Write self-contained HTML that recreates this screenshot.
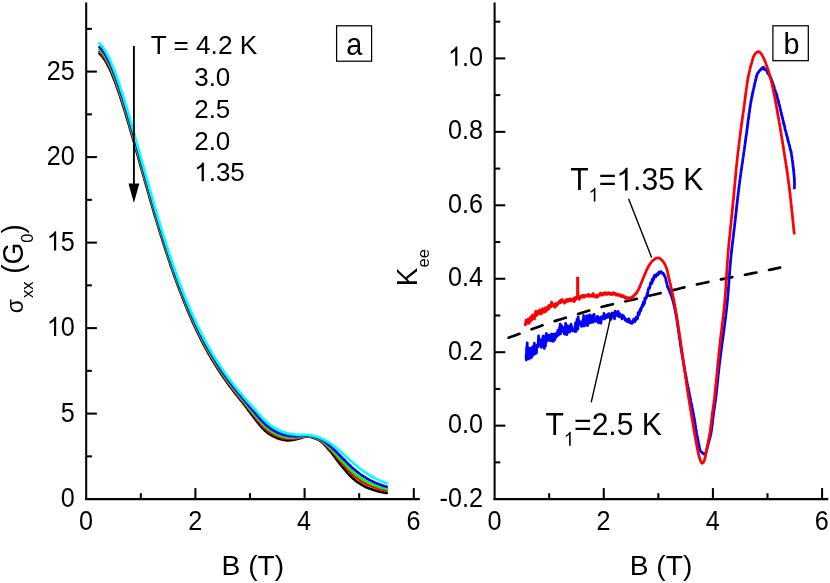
<!DOCTYPE html>
<html><head><meta charset="utf-8"><title>Figure</title>
<style>html,body{margin:0;padding:0;background:#fff}body{width:830px;height:583px;overflow:hidden;font-family:"Liberation Sans",sans-serif}</style></head>
<body>
<svg width="830" height="583" viewBox="0 0 830 583" style="display:block;will-change:transform">
<rect width="830" height="583" fill="#fff"/>
<g fill="none" stroke-linejoin="round" stroke-linecap="butt">
<path d="M99.5,53.6 L100.2,54.2 L100.9,54.9 L101.6,55.6 L102.2,56.4 L102.9,57.2 L103.6,58.2 L104.3,59.1 L105.0,60.2 L105.7,61.3 L106.4,62.5 L107.0,63.7 L107.7,65.0 L108.4,66.3 L109.1,67.7 L109.8,69.2 L110.5,70.7 L111.2,72.2 L111.8,73.8 L112.5,75.4 L113.2,77.1 L113.9,78.9 L114.6,80.6 L115.3,82.4 L116.0,84.3 L116.6,86.2 L117.3,88.1 L118.0,90.0 L118.7,92.0 L119.4,94.1 L120.1,96.1 L120.7,98.2 L121.4,100.3 L122.1,102.4 L122.8,104.6 L123.5,106.8 L124.2,109.0 L124.9,111.2 L125.5,113.4 L126.2,115.7 L126.9,118.0 L127.6,120.3 L128.3,122.6 L129.0,124.9 L129.7,127.3 L130.3,129.6 L131.0,132.0 L131.7,134.4 L132.4,136.7 L133.1,139.1 L133.8,141.5 L134.5,143.9 L135.1,146.4 L135.8,148.8 L136.5,151.2 L137.2,153.6 L137.9,156.0 L138.6,158.5 L139.3,160.9 L139.9,163.3 L140.6,165.8 L141.3,168.2 L142.0,170.6 L142.7,173.1 L143.4,175.5 L144.1,177.9 L144.7,180.3 L145.4,182.7 L146.1,185.1 L146.8,187.5 L147.5,189.9 L148.2,192.3 L148.9,194.7 L149.5,197.1 L150.2,199.5 L150.9,201.8 L151.6,204.2 L152.3,206.5 L153.0,208.9 L153.6,211.2 L154.3,213.5 L155.0,215.8 L155.7,218.1 L156.4,220.4 L157.1,222.7 L157.8,224.9 L158.4,227.2 L159.1,229.4 L159.8,231.6 L160.5,233.8 L161.2,236.0 L161.9,238.2 L162.6,240.4 L163.2,242.6 L163.9,244.7 L164.6,246.9 L165.3,249.0 L166.0,251.1 L166.7,253.2 L167.4,255.3 L168.0,257.3 L168.7,259.4 L169.4,261.4 L170.1,263.4 L170.8,265.5 L171.5,267.5 L172.2,269.4 L172.8,271.4 L173.5,273.4 L174.2,275.3 L174.9,277.2 L175.6,279.1 L176.3,281.0 L177.0,282.9 L177.6,284.8 L178.3,286.6 L179.0,288.4 L179.7,290.2 L180.4,292.0 L181.1,293.8 L181.8,295.6 L182.4,297.4 L183.1,299.1 L183.8,300.8 L184.5,302.5 L185.2,304.2 L185.9,305.9 L186.6,307.6 L187.2,309.2 L187.9,310.9 L188.6,312.5 L189.3,314.1 L190.0,315.7 L190.7,317.3 L191.3,318.8 L192.0,320.4 L192.7,321.9 L193.4,323.4 L194.1,324.9 L194.8,326.4 L195.5,327.9 L196.1,329.3 L196.8,330.8 L197.5,332.2 L198.2,333.6 L198.9,335.0 L199.6,336.4 L200.3,337.8 L200.9,339.2 L201.6,340.5 L202.3,341.9 L203.0,343.2 L203.7,344.5 L204.4,345.8 L205.1,347.1 L205.7,348.3 L206.4,349.6 L207.1,350.8 L207.8,352.1 L208.5,353.3 L209.2,354.5 L209.9,355.7 L210.5,356.9 L211.2,358.1 L211.9,359.2 L212.6,360.4 L213.3,361.5 L214.0,362.6 L214.7,363.8 L215.3,364.9 L216.0,366.0 L216.7,367.1 L217.4,368.1 L218.1,369.2 L218.8,370.3 L219.5,371.3 L220.1,372.3 L220.8,373.4 L221.5,374.4 L222.2,375.4 L222.9,376.4 L223.6,377.4 L224.3,378.4 L224.9,379.4 L225.6,380.3 L226.3,381.3 L227.0,382.2 L227.7,383.2 L228.4,384.1 L229.0,385.1 L229.7,386.0 L230.4,386.9 L231.1,387.8 L231.8,388.7 L232.5,389.6 L233.2,390.5 L233.8,391.4 L234.5,392.3 L235.2,393.2 L235.9,394.1 L236.6,395.0 L237.3,395.8 L238.0,396.7 L238.6,397.6 L239.3,398.4 L240.0,399.3 L240.7,400.1 L241.4,401.0 L242.1,401.9 L242.8,402.7 L243.4,403.6 L244.1,404.4 L244.8,405.3 L245.5,406.2 L246.2,407.1 L246.9,408.1 L247.6,409.0 L248.2,410.0 L248.9,410.9 L249.6,411.8 L250.3,412.8 L251.0,413.7 L251.7,414.6 L252.4,415.4 L253.0,416.4 L253.7,417.3 L254.4,418.2 L255.1,419.1 L255.8,420.0 L256.5,420.9 L257.2,421.7 L257.8,422.6 L258.5,423.4 L259.2,424.3 L259.9,425.1 L260.6,425.9 L261.3,426.7 L261.9,427.5 L262.6,428.2 L263.3,428.9 L264.0,429.6 L264.7,430.3 L265.4,430.9 L266.1,431.5 L266.7,432.0 L267.4,432.6 L268.1,433.1 L268.8,433.6 L269.5,434.0 L270.2,434.5 L270.9,434.9 L271.5,435.3 L272.2,435.7 L272.9,436.0 L273.6,436.4 L274.3,436.7 L275.0,437.1 L275.7,437.4 L276.3,437.7 L277.0,438.0 L277.7,438.2 L278.4,438.5 L279.1,438.7 L279.8,439.0 L280.5,439.2 L281.1,439.3 L281.8,439.5 L282.5,439.7 L283.2,439.8 L283.9,439.9 L284.6,440.0 L285.3,440.1 L285.9,440.2 L286.6,440.3 L287.3,440.3 L288.0,440.3 L288.7,440.3 L289.4,440.3 L290.1,440.2 L290.7,440.1 L291.4,440.1 L292.1,440.0 L292.8,439.9 L293.5,439.8 L294.2,439.6 L294.9,439.5 L295.5,439.4 L296.2,439.2 L296.9,439.1 L297.6,438.9 L298.3,438.8 L299.0,438.6 L299.6,438.4 L300.3,438.1 L301.0,437.9 L301.7,437.7 L302.4,437.5 L303.1,437.3 L303.8,437.1 L304.4,436.9 L305.1,436.8 L305.8,436.7 L306.5,436.6 L307.2,436.6 L307.9,436.6 L308.6,436.6 L309.2,436.7 L309.9,436.8 L310.6,437.0 L311.3,437.1 L312.0,437.3 L312.7,437.5 L313.4,437.7 L314.0,437.9 L314.7,438.2 L315.4,438.4 L316.1,438.7 L316.8,439.0 L317.5,439.3 L318.2,439.7 L318.8,440.0 L319.5,440.4 L320.2,440.8 L320.9,441.3 L321.6,441.8 L322.3,442.4 L323.0,443.1 L323.6,443.7 L324.3,444.4 L325.0,445.2 L325.7,445.9 L326.4,446.7 L327.1,447.5 L327.8,448.3 L328.4,449.1 L329.1,449.9 L329.8,450.7 L330.5,451.5 L331.2,452.3 L331.9,453.2 L332.6,454.0 L333.2,454.9 L333.9,455.8 L334.6,456.7 L335.3,457.7 L336.0,458.6 L336.7,459.5 L337.3,460.5 L338.0,461.4 L338.7,462.3 L339.4,463.2 L340.1,464.1 L340.8,464.9 L341.5,465.7 L342.1,466.5 L342.8,467.4 L343.5,468.2 L344.2,469.0 L344.9,469.8 L345.6,470.6 L346.3,471.4 L346.9,472.2 L347.6,473.0 L348.3,473.8 L349.0,474.5 L349.7,475.3 L350.4,476.0 L351.1,476.7 L351.7,477.3 L352.4,478.0 L353.1,478.6 L353.8,479.1 L354.5,479.7 L355.2,480.3 L355.9,480.8 L356.5,481.3 L357.2,481.8 L357.9,482.3 L358.6,482.7 L359.3,483.2 L360.0,483.6 L360.7,484.1 L361.3,484.5 L362.0,484.9 L362.7,485.3 L363.4,485.7 L364.1,486.1 L364.8,486.5 L365.5,486.8 L366.1,487.2 L366.8,487.5 L367.5,487.8 L368.2,488.1 L368.9,488.3 L369.6,488.6 L370.2,488.9 L370.9,489.1 L371.6,489.3 L372.3,489.6 L373.0,489.8 L373.7,490.0 L374.4,490.2 L375.0,490.4 L375.7,490.6 L376.4,490.8 L377.1,491.0 L377.8,491.2 L378.5,491.4 L379.2,491.5 L379.8,491.7 L380.5,491.9 L381.2,492.0 L381.9,492.1 L382.6,492.3 L383.3,492.4 L384.0,492.5 L384.6,492.6 L385.3,492.8 L386.0,492.9 L386.7,493.0" stroke="#000000" stroke-width="2.65" stroke-linecap="round"/>
<path d="M99.5,51.7 L100.2,52.3 L100.9,52.9 L101.6,53.7 L102.2,54.5 L102.9,55.3 L103.6,56.3 L104.3,57.3 L105.0,58.3 L105.7,59.4 L106.4,60.6 L107.0,61.8 L107.7,63.1 L108.4,64.5 L109.1,65.9 L109.8,67.3 L110.5,68.8 L111.2,70.3 L111.8,71.9 L112.5,73.6 L113.2,75.3 L113.9,77.0 L114.6,78.8 L115.3,80.6 L116.0,82.4 L116.6,84.3 L117.3,86.2 L118.0,88.2 L118.7,90.2 L119.4,92.2 L120.1,94.2 L120.7,96.3 L121.4,98.4 L122.1,100.5 L122.8,102.7 L123.5,104.9 L124.2,107.1 L124.9,109.3 L125.5,111.5 L126.2,113.8 L126.9,116.1 L127.6,118.4 L128.3,120.7 L129.0,123.0 L129.7,125.4 L130.3,127.7 L131.0,130.1 L131.7,132.5 L132.4,134.9 L133.1,137.3 L133.8,139.7 L134.5,142.1 L135.1,144.5 L135.8,146.9 L136.5,149.4 L137.2,151.8 L137.9,154.2 L138.6,156.7 L139.3,159.1 L139.9,161.5 L140.6,164.0 L141.3,166.4 L142.0,168.8 L142.7,171.3 L143.4,173.7 L144.1,176.1 L144.7,178.6 L145.4,181.0 L146.1,183.4 L146.8,185.8 L147.5,188.2 L148.2,190.6 L148.9,193.0 L149.5,195.4 L150.2,197.8 L150.9,200.2 L151.6,202.5 L152.3,204.9 L153.0,207.2 L153.6,209.5 L154.3,211.9 L155.0,214.2 L155.7,216.5 L156.4,218.8 L157.1,221.1 L157.8,223.3 L158.4,225.6 L159.1,227.8 L159.8,230.1 L160.5,232.3 L161.2,234.5 L161.9,236.7 L162.6,238.9 L163.2,241.1 L163.9,243.2 L164.6,245.4 L165.3,247.5 L166.0,249.6 L166.7,251.7 L167.4,253.8 L168.0,255.9 L168.7,257.9 L169.4,260.0 L170.1,262.0 L170.8,264.0 L171.5,266.0 L172.2,268.0 L172.8,270.0 L173.5,271.9 L174.2,273.9 L174.9,275.8 L175.6,277.7 L176.3,279.6 L177.0,281.5 L177.6,283.4 L178.3,285.2 L179.0,287.1 L179.7,288.9 L180.4,290.7 L181.1,292.5 L181.8,294.2 L182.4,296.0 L183.1,297.7 L183.8,299.5 L184.5,301.2 L185.2,302.9 L185.9,304.6 L186.6,306.2 L187.2,307.9 L187.9,309.5 L188.6,311.2 L189.3,312.8 L190.0,314.4 L190.7,315.9 L191.3,317.5 L192.0,319.0 L192.7,320.6 L193.4,322.1 L194.1,323.6 L194.8,325.1 L195.5,326.6 L196.1,328.0 L196.8,329.5 L197.5,330.9 L198.2,332.3 L198.9,333.7 L199.6,335.1 L200.3,336.5 L200.9,337.9 L201.6,339.2 L202.3,340.6 L203.0,341.9 L203.7,343.2 L204.4,344.5 L205.1,345.8 L205.7,347.0 L206.4,348.3 L207.1,349.6 L207.8,350.8 L208.5,352.0 L209.2,353.2 L209.9,354.4 L210.5,355.6 L211.2,356.8 L211.9,357.9 L212.6,359.1 L213.3,360.2 L214.0,361.4 L214.7,362.5 L215.3,363.6 L216.0,364.7 L216.7,365.8 L217.4,366.9 L218.1,367.9 L218.8,369.0 L219.5,370.0 L220.1,371.1 L220.8,372.1 L221.5,373.1 L222.2,374.1 L222.9,375.1 L223.6,376.1 L224.3,377.1 L224.9,378.1 L225.6,379.1 L226.3,380.0 L227.0,381.0 L227.7,381.9 L228.4,382.9 L229.0,383.8 L229.7,384.7 L230.4,385.6 L231.1,386.5 L231.8,387.5 L232.5,388.4 L233.2,389.2 L233.8,390.1 L234.5,391.0 L235.2,391.9 L235.9,392.8 L236.6,393.6 L237.3,394.5 L238.0,395.4 L238.6,396.2 L239.3,397.1 L240.0,397.9 L240.7,398.8 L241.4,399.6 L242.1,400.5 L242.8,401.3 L243.4,402.1 L244.1,403.0 L244.8,403.8 L245.5,404.7 L246.2,405.6 L246.9,406.5 L247.6,407.4 L248.2,408.3 L248.9,409.2 L249.6,410.1 L250.3,411.0 L251.0,411.9 L251.7,412.8 L252.4,413.6 L253.0,414.5 L253.7,415.4 L254.4,416.2 L255.1,417.1 L255.8,418.0 L256.5,418.8 L257.2,419.6 L257.8,420.5 L258.5,421.3 L259.2,422.1 L259.9,422.9 L260.6,423.7 L261.3,424.5 L261.9,425.2 L262.6,426.0 L263.3,426.7 L264.0,427.4 L264.7,428.0 L265.4,428.7 L266.1,429.3 L266.7,429.9 L267.4,430.4 L268.1,430.9 L268.8,431.4 L269.5,431.9 L270.2,432.4 L270.9,432.8 L271.5,433.2 L272.2,433.6 L272.9,434.0 L273.6,434.4 L274.3,434.8 L275.0,435.1 L275.7,435.4 L276.3,435.8 L277.0,436.1 L277.7,436.4 L278.4,436.6 L279.1,436.9 L279.8,437.1 L280.5,437.3 L281.1,437.6 L281.8,437.7 L282.5,437.9 L283.2,438.1 L283.9,438.2 L284.6,438.4 L285.3,438.5 L285.9,438.6 L286.6,438.7 L287.3,438.7 L288.0,438.8 L288.7,438.8 L289.4,438.8 L290.1,438.8 L290.7,438.8 L291.4,438.7 L292.1,438.7 L292.8,438.6 L293.5,438.6 L294.2,438.5 L294.9,438.4 L295.5,438.3 L296.2,438.2 L296.9,438.1 L297.6,438.0 L298.3,437.9 L299.0,437.7 L299.6,437.6 L300.3,437.4 L301.0,437.2 L301.7,437.0 L302.4,436.9 L303.1,436.7 L303.8,436.6 L304.4,436.5 L305.1,436.4 L305.8,436.3 L306.5,436.2 L307.2,436.2 L307.9,436.2 L308.6,436.3 L309.2,436.4 L309.9,436.5 L310.6,436.6 L311.3,436.8 L312.0,436.9 L312.7,437.1 L313.4,437.3 L314.0,437.5 L314.7,437.7 L315.4,438.0 L316.1,438.2 L316.8,438.5 L317.5,438.8 L318.2,439.1 L318.8,439.4 L319.5,439.8 L320.2,440.2 L320.9,440.6 L321.6,441.1 L322.3,441.6 L323.0,442.2 L323.6,442.8 L324.3,443.4 L325.0,444.0 L325.7,444.7 L326.4,445.4 L327.1,446.1 L327.8,446.8 L328.4,447.5 L329.1,448.3 L329.8,449.0 L330.5,449.7 L331.2,450.4 L331.9,451.2 L332.6,452.0 L333.2,452.8 L333.9,453.6 L334.6,454.4 L335.3,455.2 L336.0,456.1 L336.7,456.9 L337.3,457.8 L338.0,458.6 L338.7,459.4 L339.4,460.3 L340.1,461.1 L340.8,461.9 L341.5,462.6 L342.1,463.4 L342.8,464.2 L343.5,464.9 L344.2,465.7 L344.9,466.5 L345.6,467.2 L346.3,468.0 L346.9,468.7 L347.6,469.5 L348.3,470.2 L349.0,471.0 L349.7,471.7 L350.4,472.4 L351.1,473.0 L351.7,473.7 L352.4,474.3 L353.1,474.9 L353.8,475.5 L354.5,476.1 L355.2,476.6 L355.9,477.1 L356.5,477.7 L357.2,478.2 L357.9,478.7 L358.6,479.2 L359.3,479.6 L360.0,480.1 L360.7,480.6 L361.3,481.0 L362.0,481.4 L362.7,481.9 L363.4,482.3 L364.1,482.7 L364.8,483.1 L365.5,483.5 L366.1,483.8 L366.8,484.2 L367.5,484.5 L368.2,484.8 L368.9,485.1 L369.6,485.4 L370.2,485.7 L370.9,486.0 L371.6,486.3 L372.3,486.5 L373.0,486.8 L373.7,487.0 L374.4,487.3 L375.0,487.5 L375.7,487.7 L376.4,488.0 L377.1,488.2 L377.8,488.4 L378.5,488.6 L379.2,488.8 L379.8,489.0 L380.5,489.2 L381.2,489.4 L381.9,489.6 L382.6,489.8 L383.3,489.9 L384.0,490.1 L384.6,490.2 L385.3,490.4 L386.0,490.5 L386.7,490.6" stroke="#ff0000" stroke-width="2.65" stroke-linecap="round"/>
<path d="M99.5,49.5 L100.2,50.1 L100.9,50.8 L101.6,51.6 L102.2,52.4 L102.9,53.3 L103.6,54.3 L104.3,55.3 L105.0,56.4 L105.7,57.5 L106.4,58.7 L107.0,59.9 L107.7,61.2 L108.4,62.6 L109.1,64.0 L109.8,65.4 L110.5,66.9 L111.2,68.5 L111.8,70.1 L112.5,71.7 L113.2,73.4 L113.9,75.1 L114.6,76.9 L115.3,78.7 L116.0,80.5 L116.6,82.4 L117.3,84.3 L118.0,86.3 L118.7,88.3 L119.4,90.3 L120.1,92.3 L120.7,94.4 L121.4,96.5 L122.1,98.7 L122.8,100.8 L123.5,103.0 L124.2,105.2 L124.9,107.4 L125.5,109.7 L126.2,111.9 L126.9,114.2 L127.6,116.5 L128.3,118.8 L129.0,121.2 L129.7,123.5 L130.3,125.9 L131.0,128.2 L131.7,130.6 L132.4,133.0 L133.1,135.4 L133.8,137.8 L134.5,140.2 L135.1,142.6 L135.8,145.1 L136.5,147.5 L137.2,149.9 L137.9,152.4 L138.6,154.8 L139.3,157.3 L139.9,159.7 L140.6,162.2 L141.3,164.6 L142.0,167.1 L142.7,169.5 L143.4,171.9 L144.1,174.4 L144.7,176.8 L145.4,179.2 L146.1,181.7 L146.8,184.1 L147.5,186.5 L148.2,188.9 L148.9,191.3 L149.5,193.7 L150.2,196.1 L150.9,198.5 L151.6,200.8 L152.3,203.2 L153.0,205.6 L153.6,207.9 L154.3,210.2 L155.0,212.6 L155.7,214.9 L156.4,217.2 L157.1,219.5 L157.8,221.7 L158.4,224.0 L159.1,226.3 L159.8,228.5 L160.5,230.7 L161.2,233.0 L161.9,235.2 L162.6,237.4 L163.2,239.5 L163.9,241.7 L164.6,243.9 L165.3,246.0 L166.0,248.1 L166.7,250.2 L167.4,252.3 L168.0,254.4 L168.7,256.5 L169.4,258.5 L170.1,260.6 L170.8,262.6 L171.5,264.6 L172.2,266.6 L172.8,268.6 L173.5,270.5 L174.2,272.5 L174.9,274.4 L175.6,276.3 L176.3,278.2 L177.0,280.1 L177.6,282.0 L178.3,283.8 L179.0,285.7 L179.7,287.5 L180.4,289.3 L181.1,291.1 L181.8,292.9 L182.4,294.6 L183.1,296.4 L183.8,298.1 L184.5,299.8 L185.2,301.5 L185.9,303.2 L186.6,304.9 L187.2,306.6 L187.9,308.2 L188.6,309.8 L189.3,311.4 L190.0,313.0 L190.7,314.6 L191.3,316.2 L192.0,317.7 L192.7,319.3 L193.4,320.8 L194.1,322.3 L194.8,323.8 L195.5,325.3 L196.1,326.7 L196.8,328.2 L197.5,329.6 L198.2,331.0 L198.9,332.4 L199.6,333.8 L200.3,335.2 L200.9,336.6 L201.6,337.9 L202.3,339.3 L203.0,340.6 L203.7,341.9 L204.4,343.2 L205.1,344.5 L205.7,345.8 L206.4,347.0 L207.1,348.3 L207.8,349.5 L208.5,350.7 L209.2,351.9 L209.9,353.1 L210.5,354.3 L211.2,355.5 L211.9,356.7 L212.6,357.8 L213.3,359.0 L214.0,360.1 L214.7,361.2 L215.3,362.3 L216.0,363.4 L216.7,364.5 L217.4,365.6 L218.1,366.7 L218.8,367.7 L219.5,368.8 L220.1,369.8 L220.8,370.8 L221.5,371.8 L222.2,372.9 L222.9,373.9 L223.6,374.9 L224.3,375.8 L224.9,376.8 L225.6,377.8 L226.3,378.7 L227.0,379.7 L227.7,380.6 L228.4,381.6 L229.0,382.5 L229.7,383.4 L230.4,384.4 L231.1,385.3 L231.8,386.2 L232.5,387.1 L233.2,388.0 L233.8,388.8 L234.5,389.7 L235.2,390.6 L235.9,391.5 L236.6,392.3 L237.3,393.2 L238.0,394.1 L238.6,394.9 L239.3,395.7 L240.0,396.6 L240.7,397.4 L241.4,398.3 L242.1,399.1 L242.8,399.9 L243.4,400.8 L244.1,401.6 L244.8,402.4 L245.5,403.3 L246.2,404.1 L246.9,405.0 L247.6,405.9 L248.2,406.8 L248.9,407.6 L249.6,408.5 L250.3,409.4 L251.0,410.2 L251.7,411.0 L252.4,411.9 L253.0,412.7 L253.7,413.6 L254.4,414.4 L255.1,415.2 L255.8,416.0 L256.5,416.9 L257.2,417.7 L257.8,418.5 L258.5,419.3 L259.2,420.1 L259.9,420.9 L260.6,421.7 L261.3,422.5 L261.9,423.2 L262.6,424.0 L263.3,424.7 L264.0,425.4 L264.7,426.0 L265.4,426.7 L266.1,427.3 L266.7,427.9 L267.4,428.4 L268.1,429.0 L268.8,429.5 L269.5,430.0 L270.2,430.5 L270.9,431.0 L271.5,431.4 L272.2,431.8 L272.9,432.2 L273.6,432.6 L274.3,433.0 L275.0,433.4 L275.7,433.7 L276.3,434.1 L277.0,434.4 L277.7,434.7 L278.4,435.0 L279.1,435.3 L279.8,435.5 L280.5,435.8 L281.1,436.0 L281.8,436.2 L282.5,436.4 L283.2,436.6 L283.9,436.8 L284.6,436.9 L285.3,437.1 L285.9,437.2 L286.6,437.3 L287.3,437.4 L288.0,437.5 L288.7,437.5 L289.4,437.6 L290.1,437.6 L290.7,437.6 L291.4,437.6 L292.1,437.6 L292.8,437.6 L293.5,437.5 L294.2,437.5 L294.9,437.4 L295.5,437.4 L296.2,437.3 L296.9,437.3 L297.6,437.2 L298.3,437.1 L299.0,437.0 L299.6,436.9 L300.3,436.8 L301.0,436.6 L301.7,436.5 L302.4,436.4 L303.1,436.3 L303.8,436.2 L304.4,436.1 L305.1,436.0 L305.8,436.0 L306.5,435.9 L307.2,435.9 L307.9,436.0 L308.6,436.0 L309.2,436.1 L309.9,436.2 L310.6,436.3 L311.3,436.5 L312.0,436.6 L312.7,436.8 L313.4,436.9 L314.0,437.1 L314.7,437.4 L315.4,437.6 L316.1,437.8 L316.8,438.1 L317.5,438.4 L318.2,438.7 L318.8,439.0 L319.5,439.3 L320.2,439.7 L320.9,440.1 L321.6,440.5 L322.3,441.0 L323.0,441.5 L323.6,442.0 L324.3,442.6 L325.0,443.2 L325.7,443.8 L326.4,444.4 L327.1,445.0 L327.8,445.7 L328.4,446.3 L329.1,447.0 L329.8,447.6 L330.5,448.3 L331.2,449.0 L331.9,449.7 L332.6,450.4 L333.2,451.1 L333.9,451.9 L334.6,452.6 L335.3,453.4 L336.0,454.2 L336.7,454.9 L337.3,455.7 L338.0,456.5 L338.7,457.3 L339.4,458.0 L340.1,458.8 L340.8,459.6 L341.5,460.3 L342.1,461.0 L342.8,461.8 L343.5,462.5 L344.2,463.2 L344.9,464.0 L345.6,464.7 L346.3,465.5 L346.9,466.2 L347.6,466.9 L348.3,467.6 L349.0,468.3 L349.7,469.0 L350.4,469.7 L351.1,470.4 L351.7,471.0 L352.4,471.6 L353.1,472.2 L353.8,472.8 L354.5,473.4 L355.2,474.0 L355.9,474.5 L356.5,475.1 L357.2,475.6 L357.9,476.1 L358.6,476.6 L359.3,477.1 L360.0,477.6 L360.7,478.0 L361.3,478.5 L362.0,479.0 L362.7,479.4 L363.4,479.8 L364.1,480.3 L364.8,480.7 L365.5,481.1 L366.1,481.5 L366.8,481.8 L367.5,482.2 L368.2,482.5 L368.9,482.9 L369.6,483.2 L370.2,483.5 L370.9,483.8 L371.6,484.1 L372.3,484.4 L373.0,484.7 L373.7,485.0 L374.4,485.2 L375.0,485.5 L375.7,485.8 L376.4,486.0 L377.1,486.3 L377.8,486.5 L378.5,486.8 L379.2,487.0 L379.8,487.2 L380.5,487.4 L381.2,487.6 L381.9,487.8 L382.6,488.0 L383.3,488.2 L384.0,488.4 L384.6,488.6 L385.3,488.8 L386.0,488.9 L386.7,489.1" stroke="#00ff00" stroke-width="2.65" stroke-linecap="round"/>
<path d="M99.5,47.2 L100.2,47.8 L100.9,48.5 L101.6,49.3 L102.2,50.2 L102.9,51.1 L103.6,52.0 L104.3,53.1 L105.0,54.1 L105.7,55.3 L106.4,56.5 L107.0,57.7 L107.7,59.0 L108.4,60.4 L109.1,61.8 L109.8,63.3 L110.5,64.8 L111.2,66.3 L111.8,67.9 L112.5,69.6 L113.2,71.2 L113.9,73.0 L114.6,74.7 L115.3,76.5 L116.0,78.4 L116.6,80.3 L117.3,82.2 L118.0,84.1 L118.7,86.1 L119.4,88.1 L120.1,90.2 L120.7,92.3 L121.4,94.4 L122.1,96.5 L122.8,98.6 L123.5,100.8 L124.2,103.0 L124.9,105.2 L125.5,107.5 L126.2,109.8 L126.9,112.0 L127.6,114.3 L128.3,116.7 L129.0,119.0 L129.7,121.3 L130.3,123.7 L131.0,126.1 L131.7,128.5 L132.4,130.9 L133.1,133.3 L133.8,135.7 L134.5,138.1 L135.1,140.5 L135.8,143.0 L136.5,145.4 L137.2,147.8 L137.9,150.3 L138.6,152.7 L139.3,155.2 L139.9,157.6 L140.6,160.1 L141.3,162.5 L142.0,165.0 L142.7,167.5 L143.4,169.9 L144.1,172.3 L144.7,174.8 L145.4,177.2 L146.1,179.7 L146.8,182.1 L147.5,184.5 L148.2,186.9 L148.9,189.4 L149.5,191.8 L150.2,194.2 L150.9,196.5 L151.6,198.9 L152.3,201.3 L153.0,203.7 L153.6,206.0 L154.3,208.4 L155.0,210.7 L155.7,213.0 L156.4,215.3 L157.1,217.6 L157.8,219.9 L158.4,222.2 L159.1,224.5 L159.8,226.7 L160.5,229.0 L161.2,231.2 L161.9,233.4 L162.6,235.6 L163.2,237.8 L163.9,240.0 L164.6,242.1 L165.3,244.3 L166.0,246.4 L166.7,248.5 L167.4,250.6 L168.0,252.7 L168.7,254.8 L169.4,256.9 L170.1,258.9 L170.8,260.9 L171.5,262.9 L172.2,264.9 L172.8,266.9 L173.5,268.9 L174.2,270.9 L174.9,272.8 L175.6,274.7 L176.3,276.6 L177.0,278.5 L177.6,280.4 L178.3,282.3 L179.0,284.1 L179.7,285.9 L180.4,287.7 L181.1,289.5 L181.8,291.3 L182.4,293.1 L183.1,294.8 L183.8,296.6 L184.5,298.3 L185.2,300.0 L185.9,301.7 L186.6,303.4 L187.2,305.0 L187.9,306.7 L188.6,308.3 L189.3,309.9 L190.0,311.5 L190.7,313.1 L191.3,314.7 L192.0,316.2 L192.7,317.7 L193.4,319.3 L194.1,320.8 L194.8,322.3 L195.5,323.7 L196.1,325.2 L196.8,326.7 L197.5,328.1 L198.2,329.5 L198.9,330.9 L199.6,332.3 L200.3,333.7 L200.9,335.1 L201.6,336.4 L202.3,337.8 L203.0,339.1 L203.7,340.4 L204.4,341.7 L205.1,343.0 L205.7,344.3 L206.4,345.5 L207.1,346.8 L207.8,348.0 L208.5,349.2 L209.2,350.5 L209.9,351.7 L210.5,352.9 L211.2,354.0 L211.9,355.2 L212.6,356.3 L213.3,357.5 L214.0,358.6 L214.7,359.7 L215.3,360.9 L216.0,362.0 L216.7,363.0 L217.4,364.1 L218.1,365.2 L218.8,366.3 L219.5,367.3 L220.1,368.3 L220.8,369.4 L221.5,370.4 L222.2,371.4 L222.9,372.4 L223.6,373.4 L224.3,374.4 L224.9,375.4 L225.6,376.3 L226.3,377.3 L227.0,378.2 L227.7,379.2 L228.4,380.1 L229.0,381.0 L229.7,382.0 L230.4,382.9 L231.1,383.8 L231.8,384.7 L232.5,385.6 L233.2,386.5 L233.8,387.4 L234.5,388.2 L235.2,389.1 L235.9,390.0 L236.6,390.8 L237.3,391.7 L238.0,392.5 L238.6,393.4 L239.3,394.2 L240.0,395.0 L240.7,395.9 L241.4,396.7 L242.1,397.5 L242.8,398.3 L243.4,399.1 L244.1,400.0 L244.8,400.8 L245.5,401.6 L246.2,402.4 L246.9,403.3 L247.6,404.1 L248.2,404.9 L248.9,405.8 L249.6,406.6 L250.3,407.4 L251.0,408.2 L251.7,409.0 L252.4,409.8 L253.0,410.6 L253.7,411.4 L254.4,412.2 L255.1,413.0 L255.8,413.8 L256.5,414.6 L257.2,415.4 L257.8,416.2 L258.5,417.0 L259.2,417.8 L259.9,418.5 L260.6,419.3 L261.3,420.1 L261.9,420.8 L262.6,421.5 L263.3,422.2 L264.0,422.9 L264.7,423.6 L265.4,424.3 L266.1,424.9 L266.7,425.5 L267.4,426.1 L268.1,426.6 L268.8,427.2 L269.5,427.7 L270.2,428.2 L270.9,428.7 L271.5,429.2 L272.2,429.6 L272.9,430.0 L273.6,430.5 L274.3,430.9 L275.0,431.3 L275.7,431.6 L276.3,432.0 L277.0,432.3 L277.7,432.6 L278.4,433.0 L279.1,433.3 L279.8,433.5 L280.5,433.8 L281.1,434.1 L281.8,434.3 L282.5,434.5 L283.2,434.7 L283.9,434.9 L284.6,435.1 L285.3,435.3 L285.9,435.4 L286.6,435.6 L287.3,435.7 L288.0,435.8 L288.7,435.9 L289.4,436.0 L290.1,436.1 L290.7,436.1 L291.4,436.2 L292.1,436.2 L292.8,436.2 L293.5,436.2 L294.2,436.3 L294.9,436.3 L295.5,436.3 L296.2,436.2 L296.9,436.2 L297.6,436.2 L298.3,436.1 L299.0,436.1 L299.6,436.0 L300.3,436.0 L301.0,435.9 L301.7,435.8 L302.4,435.8 L303.1,435.7 L303.8,435.6 L304.4,435.6 L305.1,435.6 L305.8,435.5 L306.5,435.5 L307.2,435.6 L307.9,435.6 L308.6,435.7 L309.2,435.7 L309.9,435.8 L310.6,435.9 L311.3,436.1 L312.0,436.2 L312.7,436.4 L313.4,436.5 L314.0,436.7 L314.7,436.9 L315.4,437.1 L316.1,437.3 L316.8,437.6 L317.5,437.8 L318.2,438.1 L318.8,438.4 L319.5,438.7 L320.2,439.0 L320.9,439.3 L321.6,439.7 L322.3,440.1 L323.0,440.6 L323.6,441.0 L324.3,441.5 L325.0,442.0 L325.7,442.5 L326.4,443.0 L327.1,443.6 L327.8,444.1 L328.4,444.7 L329.1,445.3 L329.8,445.8 L330.5,446.4 L331.2,447.0 L331.9,447.6 L332.6,448.3 L333.2,448.9 L333.9,449.5 L334.6,450.2 L335.3,450.9 L336.0,451.6 L336.7,452.2 L337.3,452.9 L338.0,453.6 L338.7,454.3 L339.4,455.0 L340.1,455.7 L340.8,456.4 L341.5,457.1 L342.1,457.8 L342.8,458.5 L343.5,459.1 L344.2,459.8 L344.9,460.5 L345.6,461.2 L346.3,461.9 L346.9,462.6 L347.6,463.3 L348.3,464.0 L349.0,464.7 L349.7,465.3 L350.4,466.0 L351.1,466.6 L351.7,467.3 L352.4,467.9 L353.1,468.5 L353.8,469.1 L354.5,469.7 L355.2,470.2 L355.9,470.8 L356.5,471.4 L357.2,471.9 L357.9,472.4 L358.6,472.9 L359.3,473.5 L360.0,474.0 L360.7,474.5 L361.3,474.9 L362.0,475.4 L362.7,475.9 L363.4,476.3 L364.1,476.8 L364.8,477.2 L365.5,477.6 L366.1,478.1 L366.8,478.5 L367.5,478.9 L368.2,479.2 L368.9,479.6 L369.6,480.0 L370.2,480.3 L370.9,480.7 L371.6,481.0 L372.3,481.3 L373.0,481.7 L373.7,482.0 L374.4,482.3 L375.0,482.6 L375.7,482.9 L376.4,483.2 L377.1,483.5 L377.8,483.7 L378.5,484.0 L379.2,484.3 L379.8,484.5 L380.5,484.8 L381.2,485.0 L381.9,485.3 L382.6,485.5 L383.3,485.7 L384.0,486.0 L384.6,486.2 L385.3,486.4 L386.0,486.6 L386.7,486.8" stroke="#0000ff" stroke-width="2.65" stroke-linecap="round"/>
<path d="M99.5,43.4 L100.2,44.1 L100.9,44.8 L101.6,45.6 L102.2,46.5 L102.9,47.4 L103.6,48.4 L104.3,49.5 L105.0,50.6 L105.7,51.8 L106.4,53.0 L107.0,54.2 L107.7,55.6 L108.4,56.9 L109.1,58.3 L109.8,59.8 L110.5,61.3 L111.2,62.9 L111.8,64.5 L112.5,66.1 L113.2,67.8 L113.9,69.5 L114.6,71.3 L115.3,73.1 L116.0,74.9 L116.6,76.8 L117.3,78.7 L118.0,80.7 L118.7,82.7 L119.4,84.7 L120.1,86.7 L120.7,88.8 L121.4,90.9 L122.1,93.0 L122.8,95.2 L123.5,97.3 L124.2,99.5 L124.9,101.8 L125.5,104.0 L126.2,106.3 L126.9,108.6 L127.6,110.9 L128.3,113.2 L129.0,115.5 L129.7,117.9 L130.3,120.2 L131.0,122.6 L131.7,125.0 L132.4,127.4 L133.1,129.8 L133.8,132.2 L134.5,134.7 L135.1,137.1 L135.8,139.5 L136.5,142.0 L137.2,144.4 L137.9,146.9 L138.6,149.4 L139.3,151.8 L139.9,154.3 L140.6,156.8 L141.3,159.2 L142.0,161.7 L142.7,164.2 L143.4,166.6 L144.1,169.1 L144.7,171.5 L145.4,174.0 L146.1,176.4 L146.8,178.9 L147.5,181.3 L148.2,183.8 L148.9,186.2 L149.5,188.6 L150.2,191.0 L150.9,193.4 L151.6,195.8 L152.3,198.2 L153.0,200.6 L153.6,203.0 L154.3,205.3 L155.0,207.7 L155.7,210.0 L156.4,212.4 L157.1,214.7 L157.8,217.0 L158.4,219.3 L159.1,221.6 L159.8,223.8 L160.5,226.1 L161.2,228.3 L161.9,230.6 L162.6,232.8 L163.2,235.0 L163.9,237.2 L164.6,239.4 L165.3,241.5 L166.0,243.7 L166.7,245.8 L167.4,247.9 L168.0,250.0 L168.7,252.1 L169.4,254.2 L170.1,256.2 L170.8,258.3 L171.5,260.3 L172.2,262.3 L172.8,264.3 L173.5,266.3 L174.2,268.2 L174.9,270.2 L175.6,272.1 L176.3,274.0 L177.0,275.9 L177.6,277.8 L178.3,279.7 L179.0,281.6 L179.7,283.4 L180.4,285.2 L181.1,287.0 L181.8,288.8 L182.4,290.6 L183.1,292.3 L183.8,294.1 L184.5,295.8 L185.2,297.5 L185.9,299.2 L186.6,300.9 L187.2,302.6 L187.9,304.2 L188.6,305.8 L189.3,307.4 L190.0,309.1 L190.7,310.6 L191.3,312.2 L192.0,313.8 L192.7,315.3 L193.4,316.8 L194.1,318.3 L194.8,319.8 L195.5,321.3 L196.1,322.8 L196.8,324.2 L197.5,325.7 L198.2,327.1 L198.9,328.5 L199.6,329.9 L200.3,331.3 L200.9,332.7 L201.6,334.0 L202.3,335.4 L203.0,336.7 L203.7,338.0 L204.4,339.3 L205.1,340.6 L205.7,341.9 L206.4,343.2 L207.1,344.4 L207.8,345.6 L208.5,346.9 L209.2,348.1 L209.9,349.3 L210.5,350.5 L211.2,351.7 L211.9,352.8 L212.6,354.0 L213.3,355.1 L214.0,356.3 L214.7,357.4 L215.3,358.5 L216.0,359.6 L216.7,360.7 L217.4,361.8 L218.1,362.8 L218.8,363.9 L219.5,365.0 L220.1,366.0 L220.8,367.0 L221.5,368.0 L222.2,369.1 L222.9,370.1 L223.6,371.1 L224.3,372.0 L224.9,373.0 L225.6,374.0 L226.3,374.9 L227.0,375.9 L227.7,376.8 L228.4,377.8 L229.0,378.7 L229.7,379.6 L230.4,380.5 L231.1,381.4 L231.8,382.3 L232.5,383.2 L233.2,384.1 L233.8,385.0 L234.5,385.8 L235.2,386.7 L235.9,387.6 L236.6,388.4 L237.3,389.3 L238.0,390.1 L238.6,390.9 L239.3,391.8 L240.0,392.6 L240.7,393.4 L241.4,394.2 L242.1,395.0 L242.8,395.9 L243.4,396.7 L244.1,397.4 L244.8,398.2 L245.5,399.0 L246.2,399.8 L246.9,400.6 L247.6,401.4 L248.2,402.2 L248.9,402.9 L249.6,403.7 L250.3,404.5 L251.0,405.2 L251.7,406.0 L252.4,406.8 L253.0,407.5 L253.7,408.2 L254.4,409.0 L255.1,409.7 L255.8,410.5 L256.5,411.2 L257.2,412.0 L257.8,412.8 L258.5,413.6 L259.2,414.3 L259.9,415.1 L260.6,415.9 L261.3,416.6 L261.9,417.4 L262.6,418.1 L263.3,418.8 L264.0,419.5 L264.7,420.2 L265.4,420.8 L266.1,421.5 L266.7,422.1 L267.4,422.7 L268.1,423.3 L268.8,423.9 L269.5,424.4 L270.2,425.0 L270.9,425.5 L271.5,426.0 L272.2,426.5 L272.9,426.9 L273.6,427.4 L274.3,427.8 L275.0,428.2 L275.7,428.6 L276.3,429.0 L277.0,429.4 L277.7,429.7 L278.4,430.1 L279.1,430.4 L279.8,430.7 L280.5,431.0 L281.1,431.3 L281.8,431.6 L282.5,431.8 L283.2,432.1 L283.9,432.3 L284.6,432.5 L285.3,432.7 L285.9,432.9 L286.6,433.1 L287.3,433.3 L288.0,433.5 L288.7,433.6 L289.4,433.8 L290.1,433.9 L290.7,434.0 L291.4,434.1 L292.1,434.2 L292.8,434.3 L293.5,434.4 L294.2,434.5 L294.9,434.5 L295.5,434.6 L296.2,434.7 L296.9,434.7 L297.6,434.7 L298.3,434.8 L299.0,434.8 L299.6,434.8 L300.3,434.8 L301.0,434.8 L301.7,434.8 L302.4,434.9 L303.1,434.9 L303.8,434.9 L304.4,434.9 L305.1,434.9 L305.8,434.9 L306.5,435.0 L307.2,435.0 L307.9,435.1 L308.6,435.1 L309.2,435.2 L309.9,435.3 L310.6,435.4 L311.3,435.5 L312.0,435.6 L312.7,435.8 L313.4,435.9 L314.0,436.0 L314.7,436.2 L315.4,436.4 L316.1,436.6 L316.8,436.8 L317.5,437.0 L318.2,437.2 L318.8,437.5 L319.5,437.7 L320.2,438.0 L320.9,438.3 L321.6,438.6 L322.3,438.9 L323.0,439.2 L323.6,439.6 L324.3,439.9 L325.0,440.3 L325.7,440.7 L326.4,441.1 L327.1,441.5 L327.8,441.9 L328.4,442.3 L329.1,442.7 L329.8,443.2 L330.5,443.7 L331.2,444.1 L331.9,444.6 L332.6,445.1 L333.2,445.6 L333.9,446.1 L334.6,446.7 L335.3,447.2 L336.0,447.7 L336.7,448.3 L337.3,448.9 L338.0,449.4 L338.7,450.0 L339.4,450.6 L340.1,451.2 L340.8,451.8 L341.5,452.4 L342.1,453.0 L342.8,453.6 L343.5,454.2 L344.2,454.8 L344.9,455.5 L345.6,456.1 L346.3,456.7 L346.9,457.4 L347.6,458.0 L348.3,458.6 L349.0,459.3 L349.7,459.9 L350.4,460.5 L351.1,461.1 L351.7,461.7 L352.4,462.4 L353.1,463.0 L353.8,463.6 L354.5,464.2 L355.2,464.7 L355.9,465.3 L356.5,465.9 L357.2,466.4 L357.9,467.0 L358.6,467.5 L359.3,468.1 L360.0,468.6 L360.7,469.1 L361.3,469.7 L362.0,470.2 L362.7,470.7 L363.4,471.1 L364.1,471.6 L364.8,472.1 L365.5,472.6 L366.1,473.0 L366.8,473.5 L367.5,473.9 L368.2,474.3 L368.9,474.8 L369.6,475.2 L370.2,475.6 L370.9,476.0 L371.6,476.4 L372.3,476.8 L373.0,477.1 L373.7,477.5 L374.4,477.9 L375.0,478.2 L375.7,478.6 L376.4,478.9 L377.1,479.3 L377.8,479.6 L378.5,479.9 L379.2,480.2 L379.8,480.5 L380.5,480.8 L381.2,481.1 L381.9,481.4 L382.6,481.7 L383.3,482.0 L384.0,482.3 L384.6,482.5 L385.3,482.8 L386.0,483.0 L386.7,483.3" stroke="#00ffff" stroke-width="2.65" stroke-linecap="round"/>
</g>
<g stroke="#000" stroke-width="2.05" fill="none" stroke-linecap="butt">
<path d="M86.2,2.5 V500.12"/>
<path d="M85.17,499.1 H419.8"/>
<path d="M86.2,413.60 h10.7"/>
<path d="M86.2,328.10 h10.7"/>
<path d="M86.2,242.60 h10.7"/>
<path d="M86.2,157.10 h10.7"/>
<path d="M86.2,71.60 h10.7"/>
<path d="M86.2,456.35 h5.7"/>
<path d="M86.2,370.85 h5.7"/>
<path d="M86.2,285.35 h5.7"/>
<path d="M86.2,199.85 h5.7"/>
<path d="M86.2,114.35 h5.7"/>
<path d="M86.2,28.85 h5.7"/>
<path d="M195.40,499.1 v-11"/>
<path d="M304.60,499.1 v-11"/>
<path d="M413.80,499.1 v-11"/>
<path d="M140.80,499.1 v-5.9"/>
<path d="M250.00,499.1 v-5.9"/>
<path d="M359.20,499.1 v-5.9"/>
</g>
<g stroke="#000" stroke-width="2.05" fill="none" stroke-linecap="butt">
<path d="M494.6,2.5 V500.12"/>
<path d="M493.58,499.09999999999997 H828.2"/>
<path d="M494.6,425.65 h10.7"/>
<path d="M494.6,352.20 h10.7"/>
<path d="M494.6,278.75 h10.7"/>
<path d="M494.6,205.30 h10.7"/>
<path d="M494.6,131.85 h10.7"/>
<path d="M494.6,58.40 h10.7"/>
<path d="M494.6,462.38 h5.7"/>
<path d="M494.6,388.93 h5.7"/>
<path d="M494.6,315.47 h5.7"/>
<path d="M494.6,242.03 h5.7"/>
<path d="M494.6,168.58 h5.7"/>
<path d="M494.6,95.12 h5.7"/>
<path d="M494.6,21.67 h5.7"/>
<path d="M603.76,499.09999999999997 v-11"/>
<path d="M712.92,499.09999999999997 v-11"/>
<path d="M822.08,499.09999999999997 v-11"/>
<path d="M549.18,499.09999999999997 v-5.9"/>
<path d="M658.34,499.09999999999997 v-5.9"/>
<path d="M767.50,499.09999999999997 v-5.9"/>
</g>
<g fill="none" stroke-linejoin="round">
<path d="M506.7,338.4 L511.2,336.8 L515.7,335.2 L520.2,333.5 L524.7,331.8 L529.2,330.2 L533.7,328.5 L538.2,326.9 L542.7,325.2 L547.3,323.7 L551.8,322.1 L556.3,320.6 L560.9,319.2 L565.5,317.8 L570.1,316.4 L574.7,315.0 L579.3,313.6 L583.8,312.2 L588.4,310.8 L593.0,309.4 L597.6,308.1 L602.2,306.8 L606.9,305.6 L611.6,304.5 L616.2,303.5 L620.9,302.4 L625.6,301.3 L630.3,300.3 L634.9,299.2 L639.6,298.1 L644.3,297.0 L648.9,295.9 L653.6,294.8 L658.3,293.7 L662.9,292.6 L667.6,291.4 L672.2,290.3 L676.9,289.2 L681.5,288.0 L686.2,286.9 L690.9,285.8 L695.5,284.7 L700.2,283.7 L704.9,282.7 L709.6,281.7 L714.3,280.7 L719.0,279.8 L723.7,278.9 L728.4,277.9 L733.1,277.0 L737.8,276.1 L742.5,275.2 L747.2,274.3 L751.9,273.4 L756.6,272.5 L761.3,271.5 L766.0,270.6 L770.7,269.6 L775.4,268.6 L780.1,267.6" stroke="#000" stroke-width="2.7" stroke-dasharray="11.6 12.9" stroke-dashoffset="-2" stroke-linecap="round" transform="translate(0,0)"/>
<path d="M526.0,354.8 L526.3,360.0 L526.6,347.7 L526.9,347.7 L527.2,342.9 L527.5,351.8 L527.8,355.0 L528.1,355.2 L528.4,356.0 L528.7,358.9 L529.0,353.3 L529.3,356.6 L529.6,348.1 L529.9,348.6 L530.2,352.8 L530.5,348.4 L530.8,354.4 L531.1,357.9 L531.4,353.8 L531.7,348.8 L532.0,348.3 L532.3,356.1 L532.6,346.8 L532.9,349.8 L533.2,347.9 L533.5,348.8 L533.8,352.6 L534.1,346.3 L534.4,343.2 L534.7,354.2 L535.0,349.8 L535.3,351.8 L535.6,349.1 L535.9,351.9 L536.2,353.2 L536.5,352.9 L536.8,346.2 L537.1,345.1 L537.4,346.9 L537.7,345.8 L538.0,346.6 L538.3,341.8 L538.6,335.8 L538.9,344.1 L539.2,344.1 L539.5,342.8 L539.8,345.7 L540.1,343.1 L540.4,339.7 L540.7,345.0 L541.0,342.6 L541.3,347.3 L541.6,344.3 L541.9,344.6 L542.2,343.3 L542.5,342.2 L542.8,337.5 L543.1,342.1 L543.4,335.8 L543.7,344.0 L544.0,345.5 L544.3,348.4 L544.6,343.4 L544.9,340.0 L545.2,337.1 L545.5,346.0 L545.8,336.5 L546.1,342.3 L546.4,333.3 L546.7,338.9 L547.0,340.6 L547.3,339.3 L547.6,338.0 L547.9,335.6 L548.2,335.2 L548.5,340.2 L548.8,338.7 L549.1,337.0 L549.4,338.1 L549.7,335.1 L550.0,340.2 L550.3,340.6 L550.6,334.8 L550.9,336.6 L551.2,338.7 L551.5,334.0 L551.8,341.0 L552.1,339.8 L552.4,335.4 L552.7,339.1 L553.0,341.3 L553.3,334.1 L553.6,339.3 L553.9,337.6 L554.2,337.8 L554.5,340.4 L554.8,337.3 L555.1,334.7 L555.4,334.0 L555.7,336.8 L556.0,337.4 L556.3,334.7 L556.6,333.3 L556.9,332.9 L557.2,335.8 L557.5,333.6 L557.8,330.3 L558.1,331.5 L558.4,335.2 L558.7,330.1 L559.0,330.0 L559.3,330.4 L559.6,327.2 L559.9,332.1 L560.2,324.1 L560.5,333.9 L560.8,329.5 L561.1,327.6 L561.4,331.5 L561.7,325.9 L562.0,331.2 L562.3,331.3 L562.6,327.5 L562.9,327.9 L563.2,331.6 L563.5,327.7 L563.8,329.8 L564.1,330.9 L564.4,334.2 L564.7,328.8 L565.0,330.1 L565.3,332.9 L565.6,323.4 L565.9,329.3 L566.2,325.0 L566.5,325.1 L566.8,334.6 L567.1,329.7 L567.4,332.6 L567.7,327.7 L568.0,329.4 L568.3,326.6 L568.6,326.2 L568.9,327.6 L569.2,328.3 L569.5,332.2 L569.8,327.9 L570.1,329.4 L570.4,327.6 L570.7,328.3 L571.0,324.2 L571.3,330.4 L571.6,326.1 L571.9,327.8 L572.2,327.4 L572.5,331.0 L572.8,330.2 L573.1,329.0 L573.4,329.3 L573.7,329.5 L574.0,330.2 L574.3,329.3 L574.6,331.1 L574.9,331.6 L575.2,328.5 L575.5,322.9 L575.8,330.7 L576.1,331.4 L576.4,324.3 L576.7,324.0 L577.0,319.4 L577.3,327.0 L577.6,321.9 L577.9,329.1 L578.2,316.8 L578.5,323.2 L578.8,324.6 L579.1,321.6 L579.4,320.9 L579.7,324.3 L580.0,322.8 L580.3,323.8 L580.6,324.8 L580.9,323.3 L581.2,323.9 L581.5,326.3 L581.8,322.8 L582.1,324.1 L582.4,321.5 L582.7,325.9 L583.0,320.0 L583.3,326.0 L583.6,315.5 L583.9,321.1 L584.2,319.3 L584.5,325.9 L584.8,323.8 L585.1,319.5 L585.4,320.9 L585.7,325.0 L586.0,320.6 L586.3,321.4 L586.6,315.8 L586.9,315.7 L587.2,321.0 L587.5,325.7 L587.8,319.2 L588.1,322.2 L588.4,318.5 L588.7,323.5 L589.0,319.0 L589.3,318.6 L589.6,314.9 L589.9,318.2 L590.2,319.6 L590.5,322.6 L590.8,317.0 L591.1,322.1 L591.4,319.1 L591.7,319.1 L592.0,317.5 L592.3,315.7 L592.6,316.5 L592.9,322.3 L593.2,316.1 L593.5,317.7 L593.8,321.0 L594.1,314.4 L594.4,319.9 L594.7,318.1 L595.0,319.8 L595.3,321.3 L595.6,319.4 L595.9,319.4 L596.2,321.2 L596.5,320.9 L596.8,318.0 L597.1,318.9 L597.4,316.4 L597.7,321.4 L598.0,316.6 L598.3,319.5 L598.6,322.8 L598.9,321.2 L599.2,319.1 L599.5,318.2 L599.8,318.2 L600.1,320.8 L600.4,319.5 L600.7,318.7 L601.0,323.2 L601.3,316.9 L601.6,317.2 L601.9,317.1 L602.2,317.7 L602.5,317.6 L602.8,316.5 L603.1,318.4 L603.4,318.2 L603.7,317.0 L604.0,313.4 L604.3,319.0 L604.6,316.1 L604.9,316.6 L605.2,317.5 L605.5,315.7 L605.8,316.5 L606.1,317.8 L606.4,316.9 L606.7,317.7 L607.0,315.3 L607.3,316.0 L607.6,314.3 L607.9,315.4 L608.2,316.3 L608.5,315.4 L608.8,313.7 L609.1,315.7 L609.4,316.3 L609.7,317.9 L610.0,316.1 L610.3,315.6 L610.6,314.5 L610.9,319.4 L611.2,314.8 L611.5,314.4 L611.8,315.6 L612.1,312.8 L612.4,316.9 L612.7,315.5 L613.0,315.8 L613.3,313.7 L613.6,314.4 L613.9,316.4 L614.2,316.3 L614.5,318.8 L614.8,315.9 L615.1,311.2 L615.4,313.6 L615.7,312.5 L616.0,314.3 L616.3,312.6 L616.6,313.6 L616.9,312.7 L617.2,314.3 L617.5,315.8 L617.8,313.2 L618.1,311.4 L618.4,312.9 L618.7,316.5 L619.0,314.7 L619.3,314.1 L619.6,313.4 L619.9,316.5 L620.2,315.8 L620.5,315.6 L620.8,315.3 L621.1,316.2 L621.4,316.3 L621.7,317.8 L622.0,319.0 L622.3,314.8 L622.6,315.7 L622.9,317.7 L623.2,318.0 L623.5,315.9 L623.8,317.2 L624.1,317.6 L624.4,317.7 L624.7,317.8 L625.0,318.6 L625.3,320.2 L625.6,320.3 L625.9,320.4 L626.2,320.3 L626.5,319.3 L626.8,319.8 L627.1,321.5 L627.4,320.9 L627.7,321.8 L628.0,321.1 L628.3,320.8 L628.6,321.3 L628.9,318.8 L629.2,320.8 L629.5,320.4 L629.8,322.5 L630.1,320.8 L630.4,322.2 L630.7,321.5 L631.0,322.8 L631.3,323.3 L631.6,322.2 L631.9,322.5 L632.2,322.5 L632.5,323.0 L632.8,321.2 L633.1,321.1 L633.4,320.1 L633.7,319.1 L634.0,320.3 L634.3,320.4 L634.6,318.9 L634.9,321.7 L635.2,318.9 L635.5,320.7 L635.8,320.1 L636.1,317.4 L636.4,319.1 L636.7,316.8 L637.0,317.9 L637.3,318.0 L637.6,318.5 L637.9,316.3 L638.2,312.6 L638.5,313.2 L638.8,314.8 L639.1,312.7 L639.4,314.1 L639.7,310.7 L640.0,310.5 L640.3,309.1 L640.6,309.5 L640.9,310.6 L641.2,307.3 L641.5,308.3 L641.8,307.0 L642.1,306.6 L642.4,304.7 L642.7,304.5 L643.0,306.2 L643.3,302.1 L643.6,303.9 L643.9,304.3 L644.2,302.8 L644.5,303.5 L644.8,298.2 L645.1,300.3 L645.4,298.7 L645.7,298.7 L646.0,298.2 L646.3,298.0 L646.6,295.9 L646.9,296.8 L647.2,293.5 L647.5,294.9 L647.8,292.7 L648.1,290.2 L648.4,289.1 L648.7,288.0 L649.0,287.8 L649.3,287.9 L649.6,288.2 L649.9,287.0 L650.2,284.5 L650.5,283.0 L650.8,284.1 L651.1,282.4 L651.4,282.8 L651.7,281.5 L652.0,283.5 L652.3,279.1 L652.6,280.1 L652.9,280.9 L653.2,278.5 L653.5,277.7 L653.8,279.3 L654.1,275.6 L654.4,275.5 L654.7,275.3 L655.0,276.2 L655.3,276.0 L655.6,275.0 L655.9,276.7 L656.2,274.6 L656.5,274.6 L656.8,274.2 L657.1,275.2 L657.4,274.0 L657.7,273.5 L658.0,274.9 L658.3,274.4 L658.6,274.0 L658.9,272.1 L659.2,272.0 L659.5,272.4 L659.8,272.3 L660.1,272.1 L660.4,272.2 L660.7,272.8 L661.0,271.7 L661.3,272.7 L661.6,272.4 L661.9,272.4 L662.2,272.8 L662.5,273.6 L662.8,273.5 L663.1,273.1 L663.4,274.1 L663.7,274.3 L664.0,274.8 L664.3,274.9 L664.6,276.3 L664.9,276.8 L665.2,276.8 L665.5,277.8 L665.8,278.9 L666.1,281.1 L666.4,281.7 L666.7,283.0 L667.0,284.2 L667.3,285.8 L667.6,287.2 L667.9,286.8 L668.2,288.7 L668.5,288.7 L668.8,289.7 L669.1,289.7 L669.4,290.0 L669.7,291.6 L670.0,292.8 L670.3,292.2 L670.6,293.8 L670.9,294.7 L671.2,295.8 L671.5,295.9 L671.8,297.0 L672.1,298.0 L672.3,298.6 L672.5,299.2 L672.6,299.8 L672.8,300.4 L673.0,301.0 L673.1,301.6 L673.3,302.2 L673.5,302.9 L673.6,303.5 L673.8,304.1 L673.9,304.7 L674.1,305.3 L674.2,306.0 L674.4,306.6 L674.5,307.2 L674.6,307.9 L674.8,308.5 L674.9,309.1 L675.0,309.8 L675.2,310.4 L675.3,311.0 L675.4,311.7 L675.5,312.3 L675.7,312.9 L675.8,313.6 L675.9,314.2 L676.0,314.8 L676.1,315.5 L676.2,316.1 L676.3,316.7 L676.5,317.4 L676.6,318.0 L676.7,318.6 L676.8,319.3 L676.9,319.9 L677.0,320.5 L677.1,321.2 L677.2,321.8 L677.3,322.4 L677.4,323.0 L677.5,323.7 L677.6,324.3 L677.6,324.9 L677.7,325.5 L677.8,326.2 L677.9,326.8 L678.0,327.4 L678.1,328.0 L678.2,328.7 L678.3,329.3 L678.4,329.9 L678.5,330.5 L678.5,331.2 L678.6,331.8 L678.7,332.4 L678.8,333.0 L678.9,333.7 L679.0,334.3 L679.1,334.9 L679.2,335.5 L679.2,336.2 L679.3,336.8 L679.4,337.4 L679.5,338.0 L679.6,338.7 L679.7,339.3 L679.8,339.9 L679.9,340.5 L680.0,341.1 L680.1,341.8 L680.2,342.4 L680.3,343.0 L680.3,343.6 L680.4,344.3 L680.5,344.9 L680.6,345.5 L680.7,346.1 L680.8,346.8 L680.9,347.4 L681.0,348.0 L681.1,348.6 L681.2,349.3 L681.3,349.9 L681.4,350.5 L681.5,351.1 L681.6,351.8 L681.7,352.4 L681.8,353.0 L681.9,353.6 L682.0,354.3 L682.2,354.9 L682.3,355.5 L682.4,356.1 L682.5,356.8 L682.6,357.4 L682.7,358.0 L682.8,358.6 L682.9,359.3 L683.0,359.9 L683.1,360.5 L683.2,361.1 L683.3,361.8 L683.4,362.4 L683.5,363.0 L683.7,363.6 L683.8,364.3 L683.9,364.9 L684.0,365.5 L684.1,366.1 L684.2,366.8 L684.3,367.4 L684.4,368.0 L684.6,368.6 L684.7,369.3 L684.8,369.9 L684.9,370.5 L685.0,371.1 L685.1,371.8 L685.2,372.4 L685.3,373.0 L685.5,373.6 L685.6,374.3 L685.7,374.9 L685.8,375.5 L685.9,376.1 L686.0,376.7 L686.2,377.4 L686.3,378.0 L686.4,378.6 L686.5,379.2 L686.6,379.9 L686.7,380.5 L686.9,381.1 L687.0,381.7 L687.1,382.3 L687.2,383.0 L687.3,383.6 L687.5,384.2 L687.6,384.8 L687.7,385.5 L687.8,386.1 L687.9,386.7 L688.1,387.3 L688.2,387.9 L688.3,388.6 L688.4,389.2 L688.5,389.8 L688.7,390.4 L688.8,391.1 L688.9,391.7 L689.0,392.3 L689.2,392.9 L689.3,393.5 L689.4,394.2 L689.5,394.8 L689.7,395.4 L689.8,396.0 L689.9,396.6 L690.0,397.3 L690.2,397.9 L690.3,398.5 L690.4,399.1 L690.5,399.7 L690.7,400.3 L690.8,401.0 L690.9,401.6 L691.1,402.2 L691.2,402.8 L691.3,403.4 L691.4,404.1 L691.6,404.7 L691.7,405.3 L691.8,405.9 L692.0,406.5 L692.1,407.2 L692.2,407.8 L692.3,408.4 L692.5,409.0 L692.6,409.6 L692.7,410.3 L692.9,410.9 L693.0,411.5 L693.1,412.1 L693.2,412.7 L693.3,413.4 L693.5,414.0 L693.6,414.6 L693.7,415.2 L693.8,415.9 L693.9,416.5 L694.0,417.1 L694.2,417.7 L694.3,418.4 L694.4,419.0 L694.5,419.6 L694.6,420.2 L694.7,420.9 L694.8,421.5 L694.9,422.1 L695.0,422.8 L695.1,423.4 L695.2,424.0 L695.3,424.7 L695.4,425.3 L695.5,425.9 L695.6,426.5 L695.7,427.2 L695.8,427.8 L695.9,428.4 L696.0,429.0 L696.1,429.7 L696.2,430.3 L696.3,430.9 L696.4,431.5 L696.5,432.2 L696.6,432.8 L696.7,433.4 L696.8,434.0 L696.9,434.6 L697.1,435.2 L697.2,435.9 L697.3,436.5 L697.4,437.1 L697.5,437.7 L697.6,438.3 L697.8,438.9 L697.9,439.5 L698.0,440.1 L698.1,440.7 L698.3,441.3 L698.4,442.0 L698.5,442.6 L698.6,443.2 L698.7,443.8 L698.9,444.5 L699.0,445.1 L699.1,445.7 L699.2,446.4 L699.3,447.1 L699.4,447.7 L699.5,448.4 L699.7,449.0 L699.8,449.6 L700.1,450.2 L700.3,450.8 L700.6,451.3 L701.0,451.7 L701.5,452.1 L702.0,452.5 L702.5,452.9 L703.1,453.4 L703.7,453.9 L704.2,454.2 L704.7,454.2 L705.1,453.8 L705.5,453.3 L705.8,452.6 L706.1,451.9 L706.4,451.3 L706.6,450.7 L706.7,450.1 L706.9,449.5 L707.0,448.9 L707.1,448.3 L707.3,447.7 L707.4,447.2 L707.5,446.6 L707.7,446.0 L707.9,445.4 L708.0,444.8 L708.2,444.2 L708.4,443.6 L708.5,443.0 L708.7,442.3 L708.9,441.7 L709.1,441.1 L709.2,440.5 L709.4,439.9 L709.6,439.2 L709.7,438.6 L709.9,438.0 L710.1,437.4 L710.2,436.7 L710.4,436.1 L710.5,435.5 L710.7,434.9 L710.8,434.2 L710.9,433.6 L711.0,433.0 L711.1,432.4 L711.3,431.7 L711.4,431.1 L711.5,430.5 L711.6,429.8 L711.6,429.2 L711.7,428.6 L711.8,428.0 L711.9,427.3 L712.0,426.7 L712.1,426.1 L712.1,425.5 L712.2,424.8 L712.3,424.2 L712.4,423.6 L712.4,422.9 L712.5,422.3 L712.6,421.7 L712.6,421.1 L712.7,420.4 L712.8,419.8 L712.9,419.2 L712.9,418.6 L713.0,417.9 L713.1,417.3 L713.2,416.7 L713.2,416.1 L713.3,415.4 L713.4,414.8 L713.5,414.2 L713.6,413.5 L713.7,412.9 L713.8,412.3 L713.8,411.7 L713.9,411.0 L714.0,410.4 L714.1,409.8 L714.2,409.2 L714.3,408.5 L714.4,407.9 L714.5,407.3 L714.6,406.7 L714.7,406.0 L714.7,405.4 L714.8,404.8 L714.9,404.1 L715.0,403.5 L715.1,402.9 L715.2,402.3 L715.3,401.6 L715.4,401.0 L715.5,400.4 L715.5,399.7 L715.6,399.1 L715.7,398.5 L715.8,397.9 L715.9,397.2 L715.9,396.6 L716.0,396.0 L716.1,395.3 L716.2,394.7 L716.2,394.1 L716.3,393.5 L716.4,392.8 L716.5,392.2 L716.5,391.6 L716.6,390.9 L716.7,390.3 L716.7,389.7 L716.8,389.0 L716.9,388.4 L716.9,387.8 L717.0,387.2 L717.1,386.5 L717.1,385.9 L717.2,385.3 L717.3,384.6 L717.3,384.0 L717.4,383.4 L717.5,382.8 L717.5,382.1 L717.6,381.5 L717.7,380.9 L717.7,380.2 L717.8,379.6 L717.9,379.0 L717.9,378.3 L718.0,377.7 L718.1,377.1 L718.1,376.5 L718.2,375.8 L718.2,375.2 L718.3,374.6 L718.4,373.9 L718.4,373.3 L718.5,372.7 L718.6,372.0 L718.6,371.4 L718.7,370.8 L718.8,370.2 L718.9,369.5 L718.9,368.9 L719.0,368.3 L719.1,367.6 L719.1,367.0 L719.2,366.4 L719.3,365.8 L719.4,365.1 L719.4,364.5 L719.5,363.9 L719.6,363.2 L719.7,362.6 L719.7,362.0 L719.8,361.4 L719.9,360.7 L720.0,360.1 L720.0,359.5 L720.1,358.8 L720.2,358.2 L720.3,357.6 L720.4,357.0 L720.4,356.3 L720.5,355.7 L720.6,355.1 L720.7,354.4 L720.8,353.8 L720.8,353.2 L720.9,352.6 L721.0,351.9 L721.1,351.3 L721.2,350.7 L721.3,350.0 L721.3,349.4 L721.4,348.8 L721.5,348.2 L721.6,347.5 L721.7,346.9 L721.8,346.3 L721.8,345.6 L721.9,345.0 L722.0,344.4 L722.1,343.8 L722.2,343.1 L722.3,342.5 L722.3,341.9 L722.4,341.3 L722.5,340.6 L722.6,340.0 L722.7,339.4 L722.8,338.7 L722.9,338.1 L722.9,337.5 L723.0,336.9 L723.1,336.2 L723.2,335.6 L723.3,335.0 L723.4,334.4 L723.5,333.7 L723.5,333.1 L723.6,332.5 L723.7,331.8 L723.8,331.2 L723.9,330.6 L724.0,330.0 L724.0,329.3 L724.1,328.7 L724.2,328.1 L724.3,327.4 L724.4,326.8 L724.5,326.2 L724.5,325.6 L724.6,324.9 L724.7,324.3 L724.8,323.7 L724.9,323.0 L724.9,322.4 L725.0,321.8 L725.1,321.2 L725.2,320.5 L725.3,319.9 L725.3,319.3 L725.4,318.6 L725.5,318.0 L725.6,317.4 L725.7,316.8 L725.7,316.1 L725.8,315.5 L725.9,314.9 L726.0,314.2 L726.0,313.6 L726.1,313.0 L726.2,312.4 L726.3,311.7 L726.3,311.1 L726.4,310.5 L726.5,309.8 L726.5,309.2 L726.6,308.6 L726.7,308.0 L726.8,307.3 L726.8,306.7 L726.9,306.1 L727.0,305.4 L727.0,304.8 L727.1,304.2 L727.1,303.5 L727.2,302.9 L727.3,302.3 L727.3,301.7 L727.4,301.0 L727.5,300.4 L727.5,299.8 L727.6,299.1 L727.6,298.5 L727.7,297.9 L727.7,297.2 L727.8,296.6 L727.8,296.0 L727.9,295.4 L728.0,294.7 L728.0,294.1 L728.1,293.5 L728.1,292.8 L728.2,292.2 L728.2,291.6 L728.3,290.9 L728.3,290.3 L728.4,289.7 L728.4,289.0 L728.5,288.4 L728.5,287.8 L728.5,287.1 L728.6,286.5 L728.6,285.9 L728.7,285.3 L728.7,284.6 L728.8,284.0 L728.8,283.4 L728.9,282.7 L728.9,282.1 L729.0,281.5 L729.0,280.8 L729.0,280.2 L729.1,279.6 L729.1,278.9 L729.2,278.3 L729.2,277.7 L729.3,277.0 L729.3,276.4 L729.4,275.8 L729.4,275.1 L729.5,274.5 L729.5,273.9 L729.6,273.2 L729.6,272.6 L729.6,272.0 L729.7,271.4 L729.7,270.7 L729.8,270.1 L729.8,269.5 L729.9,268.8 L729.9,268.2 L730.0,267.6 L730.0,266.9 L730.1,266.3 L730.1,265.7 L730.2,265.0 L730.3,264.4 L730.3,263.8 L730.4,263.1 L730.4,262.5 L730.5,261.9 L730.5,261.3 L730.6,260.6 L730.6,260.0 L730.7,259.4 L730.8,258.7 L730.8,258.1 L730.9,257.5 L731.0,256.8 L731.0,256.2 L731.1,255.6 L731.2,255.0 L731.2,254.3 L731.3,253.7 L731.4,253.1 L731.4,252.4 L731.5,251.8 L731.6,251.2 L731.6,250.5 L731.7,249.9 L731.8,249.3 L731.8,248.7 L731.9,248.0 L732.0,247.4 L732.1,246.8 L732.1,246.1 L732.2,245.5 L732.3,244.9 L732.3,244.3 L732.4,243.6 L732.5,243.0 L732.6,242.4 L732.6,241.7 L732.7,241.1 L732.8,240.5 L732.9,239.9 L732.9,239.2 L733.0,238.6 L733.1,238.0 L733.2,237.3 L733.3,236.7 L733.3,236.1 L733.4,235.5 L733.5,234.8 L733.6,234.2 L733.6,233.6 L733.7,232.9 L733.8,232.3 L733.9,231.7 L733.9,231.0 L734.0,230.4 L734.1,229.8 L734.2,229.2 L734.2,228.5 L734.3,227.9 L734.4,227.3 L734.5,226.6 L734.5,226.0 L734.6,225.4 L734.7,224.8 L734.7,224.1 L734.8,223.5 L734.9,222.9 L735.0,222.2 L735.0,221.6 L735.1,221.0 L735.2,220.4 L735.2,219.7 L735.3,219.1 L735.4,218.5 L735.5,217.8 L735.5,217.2 L735.6,216.6 L735.7,215.9 L735.7,215.3 L735.8,214.7 L735.9,214.1 L735.9,213.4 L736.0,212.8 L736.1,212.2 L736.2,211.5 L736.2,210.9 L736.3,210.3 L736.4,209.7 L736.4,209.0 L736.5,208.4 L736.6,207.8 L736.6,207.1 L736.7,206.5 L736.8,205.9 L736.8,205.2 L736.9,204.6 L737.0,204.0 L737.1,203.4 L737.1,202.7 L737.2,202.1 L737.3,201.5 L737.3,200.8 L737.4,200.2 L737.5,199.6 L737.6,199.0 L737.6,198.3 L737.7,197.7 L737.8,197.1 L737.9,196.4 L737.9,195.8 L738.0,195.2 L738.1,194.5 L738.1,193.9 L738.2,193.3 L738.3,192.7 L738.4,192.0 L738.5,191.4 L738.5,190.8 L738.6,190.2 L738.7,189.5 L738.8,188.9 L738.8,188.3 L738.9,187.6 L739.0,187.0 L739.1,186.4 L739.2,185.8 L739.2,185.1 L739.3,184.5 L739.4,183.9 L739.5,183.2 L739.6,182.6 L739.7,182.0 L739.7,181.4 L739.8,180.7 L739.9,180.1 L740.0,179.5 L740.1,178.9 L740.2,178.2 L740.3,177.6 L740.3,177.0 L740.4,176.3 L740.5,175.7 L740.6,175.1 L740.7,174.5 L740.8,173.8 L740.9,173.2 L740.9,172.6 L741.0,172.0 L741.1,171.3 L741.2,170.7 L741.3,170.1 L741.4,169.4 L741.5,168.8 L741.6,168.2 L741.7,167.6 L741.7,166.9 L741.8,166.3 L741.9,165.7 L742.0,165.1 L742.1,164.4 L742.2,163.8 L742.3,163.2 L742.4,162.5 L742.5,161.9 L742.6,161.3 L742.7,160.7 L742.7,160.0 L742.8,159.4 L742.9,158.8 L743.0,158.2 L743.1,157.5 L743.2,156.9 L743.3,156.3 L743.4,155.6 L743.5,155.0 L743.6,154.4 L743.6,153.8 L743.7,153.1 L743.8,152.5 L743.9,151.9 L744.0,151.3 L744.1,150.6 L744.2,150.0 L744.3,149.4 L744.4,148.7 L744.5,148.1 L744.5,147.5 L744.6,146.9 L744.7,146.2 L744.8,145.6 L744.9,145.0 L745.0,144.4 L745.1,143.7 L745.2,143.1 L745.2,142.8 L745.3,141.4 L745.4,142.0 L745.5,139.9 L745.6,140.1 L745.7,138.8 L745.8,138.6 L745.9,138.6 L745.9,136.8 L746.0,136.9 L746.1,136.2 L746.2,135.6 L746.3,135.1 L746.4,134.7 L746.5,133.9 L746.5,133.2 L746.6,132.8 L746.7,132.1 L746.8,131.1 L746.9,130.0 L747.0,130.3 L747.0,129.1 L747.1,129.4 L747.2,127.8 L747.3,126.9 L747.4,127.3 L747.5,125.8 L747.5,124.9 L747.6,125.4 L747.7,123.6 L747.8,124.2 L747.9,122.6 L748.0,122.6 L748.0,121.9 L748.1,120.3 L748.2,120.5 L748.3,119.7 L748.4,119.3 L748.4,118.9 L748.5,118.7 L748.6,117.3 L748.7,116.7 L748.8,117.1 L748.9,115.8 L748.9,115.2 L749.0,113.6 L749.1,113.0 L749.2,112.8 L749.3,112.3 L749.4,112.0 L749.5,112.4 L749.6,109.9 L749.7,109.7 L749.7,109.5 L749.8,108.7 L749.9,108.5 L750.0,107.2 L750.1,106.3 L750.2,107.1 L750.3,105.7 L750.4,104.3 L750.5,104.1 L750.6,103.6 L750.7,102.3 L750.9,102.7 L751.0,101.8 L751.1,100.9 L751.2,100.2 L751.3,100.6 L751.4,99.2 L751.6,98.2 L751.7,97.0 L751.8,96.8 L751.9,97.0 L752.1,96.7 L752.2,94.9 L752.3,93.9 L752.5,94.2 L752.6,93.5 L752.7,93.3 L752.9,92.0 L753.0,91.7 L753.1,90.2 L753.3,89.9 L753.4,89.6 L753.5,89.0 L753.7,88.8 L753.8,88.5 L754.0,86.7 L754.1,87.5 L754.2,85.8 L754.4,85.3 L754.5,85.4 L754.7,83.2 L754.8,83.0 L754.9,82.7 L755.1,82.5 L755.2,82.3 L755.3,81.8 L755.5,80.3 L755.6,80.4 L755.7,79.3 L755.9,79.6 L756.0,78.2 L756.2,78.2 L756.3,76.7 L756.5,76.9 L756.7,75.3 L756.9,75.4 L757.2,74.0 L757.4,74.1 L757.7,73.2 L758.0,72.5 L758.3,72.5 L758.7,72.1 L759.0,71.2 L759.5,70.7 L759.9,70.3 L760.4,70.0 L760.9,69.4 L761.4,68.6 L761.9,69.0 L762.4,67.7 L762.9,68.2 L763.4,67.3 L763.9,69.1 L764.4,68.2 L764.9,68.8 L765.4,69.9 L765.9,69.7 L766.3,70.0 L766.7,70.2 L767.1,71.5 L767.5,73.1 L767.9,72.9 L768.3,74.1 L768.6,74.3 L768.9,74.3 L769.2,74.4 L769.5,75.5 L769.8,76.5 L770.1,76.6 L770.3,77.4 L770.6,78.1 L770.8,78.2 L771.0,78.3 L771.3,79.3 L771.5,80.3 L771.7,80.2 L771.9,80.7 L772.1,81.3 L772.4,82.2 L772.6,82.8 L772.8,83.4 L773.0,83.5 L773.2,84.6 L773.4,84.9 L773.6,85.4 L773.8,85.6 L774.0,86.5 L774.2,87.3 L774.4,88.3 L774.6,89.0 L774.8,89.4 L775.0,90.1 L775.2,90.1 L775.4,91.6 L775.6,92.2 L775.8,92.8 L776.0,92.9 L776.2,93.7 L776.4,94.1 L776.6,94.3 L776.7,95.4 L776.9,95.5 L777.1,96.0 L777.3,97.6 L777.5,98.3 L777.6,99.0 L777.8,99.0 L778.0,99.9 L778.1,100.7 L778.3,100.9 L778.5,100.8 L778.6,103.3 L778.8,103.5 L778.9,104.1 L779.1,104.2 L779.3,104.4 L779.4,105.4 L779.6,106.1 L779.7,106.0 L779.9,107.0 L780.0,108.1 L780.2,109.2 L780.3,109.4 L780.5,109.5 L780.6,109.7 L780.8,111.8 L780.9,111.6 L781.1,112.5 L781.2,112.8 L781.4,112.8 L781.5,115.0 L781.6,114.9 L781.8,115.8 L781.9,115.5 L782.1,116.4 L782.2,117.7 L782.4,117.5 L782.5,118.0 L782.7,118.4 L782.8,118.9 L782.9,120.5 L783.1,120.7 L783.2,120.6 L783.4,122.7 L783.5,123.2 L783.7,123.7 L783.8,123.0 L784.0,124.5 L784.1,125.6 L784.3,125.2 L784.4,125.9 L784.6,126.8 L784.7,126.6 L784.9,128.2 L785.0,129.2 L785.2,129.7 L785.3,130.7 L785.5,130.6 L785.6,131.2 L785.8,131.7 L785.9,132.1 L786.1,132.6 L786.3,133.3 L786.4,134.3 L786.6,134.7 L786.7,135.6 L786.9,136.2 L787.1,137.0 L787.2,137.1 L787.4,137.0 L787.6,138.1 L787.7,140.1 L787.9,140.1 L788.1,140.2 L788.2,140.9 L788.4,141.6 L788.6,142.0 L788.7,143.0 L788.9,143.8 L789.1,144.6 L789.2,144.5 L789.4,145.2 L789.6,145.8 L789.7,146.6 L789.9,147.6 L790.0,147.4 L790.2,149.4 L790.3,149.2 L790.5,150.1 L790.6,149.8 L790.8,150.7 L790.9,151.2 L791.0,152.1 L791.2,151.8 L791.3,153.5 L791.4,153.2 L791.5,154.7 L791.6,155.6 L791.7,155.8 L791.8,156.4 L791.9,157.0 L792.0,157.6 L792.1,158.4 L792.2,159.4 L792.3,159.9 L792.4,160.9 L792.5,160.9 L792.5,161.2 L792.6,161.9 L792.7,162.2 L792.8,163.2 L792.8,163.7 L792.9,165.4 L793.0,165.5 L793.0,166.7 L793.1,165.7 L793.2,167.3 L793.3,168.2 L793.3,168.6 L793.4,168.8 L793.5,169.8 L793.6,170.4 L793.6,171.0 L793.7,171.7 L793.8,172.6 L793.8,172.9 L793.9,173.6 L793.9,174.1 L794.0,174.9 L794.1,175.0 L794.1,176.2 L794.2,176.5 L794.2,177.6 L794.3,177.6 L794.3,178.5 L794.3,179.1 L794.4,179.3 L794.4,180.9 L794.4,181.2 L794.4,181.7 L794.5,182.9 L794.5,182.8 L794.5,183.6 L794.5,184.7 L794.5,185.9 L794.5,185.5 L794.4,186.8 L794.4,186.8 L794.4,187.0 L794.3,188.2 L794.3,189.2" stroke="#0000ff" stroke-width="2.75"/>
<path d="M525.2,326.0 L525.5,323.6 L525.8,323.2 L526.1,320.1 L526.4,323.1 L526.7,323.1 L527.0,323.4 L527.3,322.1 L527.6,322.5 L527.9,321.2 L528.2,319.2 L528.5,322.4 L528.8,322.2 L529.1,323.3 L529.4,320.5 L529.7,319.7 L530.0,319.3 L530.3,317.5 L530.6,321.1 L530.9,317.4 L531.2,316.7 L531.5,317.6 L531.8,319.8 L532.1,317.4 L532.4,315.2 L532.7,315.5 L533.0,317.3 L533.3,316.1 L533.6,315.2 L533.9,316.0 L534.2,317.4 L534.5,319.1 L534.8,314.1 L535.1,314.7 L535.4,314.0 L535.7,311.2 L536.0,313.0 L536.3,312.6 L536.6,315.5 L536.9,313.7 L537.2,311.6 L537.5,314.7 L537.8,313.1 L538.1,311.1 L538.4,312.5 L538.7,312.4 L539.0,311.9 L539.3,313.0 L539.6,309.9 L539.9,312.3 L540.2,313.8 L540.5,313.3 L540.8,313.4 L541.1,313.3 L541.4,313.7 L541.7,310.3 L542.0,312.7 L542.3,309.1 L542.6,310.5 L542.9,308.6 L543.2,312.1 L543.5,312.2 L543.8,310.0 L544.1,312.2 L544.4,309.0 L544.7,309.8 L545.0,309.6 L545.3,308.0 L545.6,309.8 L545.9,311.5 L546.2,307.7 L546.5,309.8 L546.8,308.2 L547.1,310.1 L547.4,308.2 L547.7,308.2 L548.0,308.0 L548.3,307.6 L548.6,305.6 L548.9,308.8 L549.2,305.4 L549.5,307.0 L549.8,307.1 L550.1,305.1 L550.4,305.9 L550.7,306.9 L551.0,305.4 L551.3,304.3 L551.6,302.1 L551.9,304.3 L552.2,304.8 L552.5,304.9 L552.8,304.5 L553.1,306.1 L553.4,305.1 L553.7,305.5 L554.0,306.2 L554.3,304.3 L554.6,304.7 L554.9,307.3 L555.2,306.0 L555.5,303.6 L555.8,304.9 L556.1,305.4 L556.4,305.9 L556.7,304.5 L557.0,303.6 L557.3,303.2 L557.6,304.5 L557.9,304.0 L558.2,303.0 L558.5,303.1 L558.8,302.4 L559.1,303.1 L559.4,301.2 L559.7,302.0 L560.0,302.2 L560.3,301.8 L560.6,300.4 L560.9,302.6 L561.2,300.7 L561.5,301.7 L561.8,300.5 L562.1,299.5 L562.4,301.4 L562.7,301.6 L563.0,301.3 L563.3,301.7 L563.6,300.9 L563.9,300.8 L564.2,301.3 L564.5,303.2 L564.8,302.0 L565.1,300.7 L565.4,301.7 L565.7,300.7 L566.0,300.7 L566.3,301.9 L566.6,300.5 L566.9,299.3 L567.2,299.9 L567.5,300.5 L567.8,300.4 L568.1,301.2 L568.4,299.3 L568.7,300.6 L569.0,300.3 L569.3,299.7 L569.6,300.5 L569.9,300.1 L570.2,299.0 L570.5,300.9 L570.8,299.0 L571.1,300.4 L571.4,300.4 L571.7,300.8 L572.0,299.6 L572.3,300.0 L572.6,299.6 L572.9,300.3 L573.2,298.7 L573.5,299.4 L573.8,299.1 L574.1,298.3 L574.4,301.6 L574.7,299.1 L575.0,297.7 L575.3,299.9 L575.6,297.6 L575.9,298.7 L576.2,299.0 L576.5,297.6 L576.8,297.7 L577.1,297.6 L577.4,297.8 L577.7,296.5 L578.0,296.8 L578.3,297.6 L578.6,298.6 L578.9,298.4 L579.2,299.4 L579.5,298.6 L579.8,297.7 L580.1,297.9 L580.4,296.3 L580.7,296.9 L581.0,296.6 L581.3,297.3 L581.6,297.4 L581.9,296.3 L582.2,296.2 L582.5,295.4 L582.8,296.3 L583.1,296.5 L583.4,296.5 L583.7,295.5 L584.0,297.4 L584.3,296.8 L584.6,295.8 L584.9,295.5 L585.2,295.6 L585.5,295.9 L585.8,295.7 L586.1,296.0 L586.4,296.1 L586.7,296.4 L587.0,296.1 L587.3,295.1 L587.6,295.3 L587.9,294.6 L588.2,294.4 L588.5,296.1 L588.8,294.5 L589.1,296.3 L589.4,294.9 L589.7,295.5 L590.0,296.3 L590.3,295.7 L590.6,296.1 L590.9,295.7 L591.2,295.4 L591.5,295.5 L591.8,295.0 L592.1,296.4 L592.4,295.1 L592.7,296.3 L593.0,293.6 L593.3,295.4 L593.6,295.8 L593.9,295.3 L594.2,296.2 L594.5,295.9 L594.8,295.2 L595.1,295.6 L595.4,297.2 L595.7,295.7 L596.0,295.9 L596.3,295.6 L596.6,296.1 L596.9,295.2 L597.2,295.8 L597.5,297.1 L597.8,296.0 L598.1,295.4 L598.4,295.4 L598.7,295.6 L599.0,294.7 L599.3,295.4 L599.6,294.9 L599.9,294.4 L600.2,295.3 L600.5,293.0 L600.8,294.0 L601.1,294.4 L601.4,293.7 L601.7,293.9 L602.0,293.6 L602.3,293.5 L602.6,295.2 L602.9,294.0 L603.2,293.6 L603.5,294.3 L603.8,293.4 L604.1,294.0 L604.4,293.6 L604.7,294.2 L605.0,292.6 L605.3,293.7 L605.6,293.5 L605.9,292.9 L606.2,294.1 L606.5,293.2 L606.8,294.5 L607.1,294.0 L607.4,294.0 L607.7,293.7 L608.0,294.1 L608.3,292.7 L608.6,293.6 L608.9,293.2 L609.2,293.6 L609.5,293.4 L609.8,293.7 L610.1,293.1 L610.4,294.4 L610.7,294.6 L611.0,293.5 L611.3,293.6 L611.6,293.8 L611.9,294.2 L612.2,294.5 L612.5,293.0 L612.8,293.3 L613.1,293.0 L613.4,293.0 L613.7,292.8 L614.0,293.7 L614.3,293.1 L614.6,294.4 L614.9,294.3 L615.2,293.6 L615.5,293.7 L615.8,294.1 L616.1,295.1 L616.4,294.2 L616.7,294.0 L617.0,294.6 L617.3,294.8 L617.6,294.4 L617.9,295.4 L618.2,294.8 L618.5,295.0 L618.8,294.6 L619.1,295.1 L619.4,295.3 L619.7,294.6 L620.0,295.7 L620.3,295.0 L620.6,295.7 L620.9,295.2 L621.2,296.6 L621.5,296.0 L621.8,296.3 L622.1,296.4 L622.4,295.7 L622.7,295.4 L623.0,296.3 L623.3,296.9 L623.6,296.7 L623.9,297.1 L624.2,297.3 L624.5,296.6 L624.8,297.3 L625.1,298.0 L625.4,297.3 L625.7,297.0 L626.0,297.7 L626.3,297.8 L626.6,298.3 L626.9,298.0 L627.2,298.4 L627.5,297.7 L627.8,298.7 L628.1,299.0 L628.4,298.9 L628.7,298.1 L629.0,298.7 L629.3,297.7 L629.6,298.6 L629.9,298.4 L630.2,298.0 L630.5,298.2 L630.8,298.1 L631.1,298.1 L631.4,297.8 L631.7,297.6 L632.0,296.8 L632.3,296.8 L632.6,296.7 L632.9,296.7 L633.2,296.3 L633.5,296.4 L633.8,295.5 L634.1,295.3 L634.4,295.1 L634.7,294.7 L635.0,294.5 L635.3,294.0 L635.6,294.1 L635.9,293.4 L636.2,293.3 L636.5,292.7 L636.8,292.5 L637.1,291.5 L637.4,291.4 L637.7,290.7 L638.0,290.4 L638.3,290.1 L638.6,289.1 L638.9,288.5 L639.2,287.9 L639.5,287.5 L639.8,286.5 L640.1,286.1 L640.4,285.1 L640.7,284.4 L641.0,283.8 L641.3,283.1 L641.6,282.2 L641.9,281.4 L642.2,280.7 L642.5,279.9 L642.8,278.9 L643.1,278.4 L643.4,277.7 L643.7,277.1 L644.0,276.4 L644.3,275.6 L644.6,274.8 L644.9,273.9 L645.2,273.3 L645.5,272.7 L645.8,272.0 L646.1,271.2 L646.4,270.6 L646.7,270.0 L647.0,269.5 L647.3,268.8 L647.6,268.1 L647.9,267.5 L648.2,267.0 L648.5,266.4 L648.8,265.9 L649.1,265.4 L649.4,264.9 L650.0,263.9 L650.7,263.0 L651.3,262.2 L652.0,261.3 L652.8,260.5 L653.7,259.8 L654.6,259.1 L655.6,258.5 L656.6,258.0 L657.6,257.8 L658.6,257.9 L659.6,258.3 L660.5,258.9 L661.4,259.7 L662.2,260.5 L663.0,261.5 L663.7,262.4 L664.3,263.4 L664.9,264.4 L665.4,265.4 L665.8,266.4 L666.2,267.4 L666.6,268.4 L666.9,269.4 L667.2,270.5 L667.5,271.5 L667.7,272.6 L668.0,273.6 L668.2,274.7 L668.4,275.7 L668.6,276.8 L668.9,277.9 L669.1,278.9 L669.3,280.0 L669.6,281.0 L669.8,282.1 L670.1,283.2 L670.3,284.2 L670.6,285.3 L670.8,286.4 L671.0,287.4 L671.3,288.5 L671.5,289.6 L671.8,290.6 L672.0,291.7 L672.2,292.8 L672.5,293.8 L672.7,294.9 L672.9,296.0 L673.2,297.0 L673.4,298.1 L673.6,299.2 L673.8,300.3 L674.0,301.3 L674.2,302.4 L674.4,303.5 L674.6,304.5 L674.8,305.6 L675.0,306.7 L675.2,307.8 L675.4,308.8 L675.6,309.9 L675.8,311.0 L676.0,312.1 L676.1,313.1 L676.3,314.2 L676.5,315.3 L676.7,316.4 L676.8,317.4 L677.0,318.5 L677.2,319.6 L677.4,320.7 L677.5,321.8 L677.7,322.8 L677.9,323.9 L678.0,325.0 L678.2,326.1 L678.4,327.1 L678.5,328.2 L678.7,329.3 L678.9,330.4 L679.0,331.5 L679.2,332.5 L679.4,333.6 L679.5,334.7 L679.7,335.8 L679.8,336.9 L680.0,337.9 L680.2,339.0 L680.3,340.1 L680.5,341.2 L680.6,342.3 L680.8,343.3 L680.9,344.4 L681.1,345.5 L681.3,346.6 L681.4,347.7 L681.6,348.7 L681.7,349.8 L681.9,350.9 L682.0,352.0 L682.2,353.1 L682.4,354.1 L682.5,355.2 L682.7,356.3 L682.8,357.4 L683.0,358.5 L683.1,359.5 L683.3,360.6 L683.4,361.7 L683.6,362.8 L683.7,363.9 L683.9,364.9 L684.0,366.0 L684.2,367.1 L684.3,368.2 L684.5,369.3 L684.6,370.3 L684.8,371.4 L685.0,372.5 L685.1,373.6 L685.3,374.7 L685.4,375.7 L685.6,376.8 L685.7,377.9 L685.9,379.0 L686.0,380.1 L686.2,381.2 L686.3,382.2 L686.5,383.3 L686.6,384.4 L686.8,385.5 L687.0,386.6 L687.1,387.6 L687.3,388.7 L687.4,389.8 L687.6,390.9 L687.8,392.0 L687.9,393.0 L688.1,394.1 L688.2,395.2 L688.4,396.3 L688.6,397.3 L688.7,398.4 L688.9,399.5 L689.1,400.6 L689.3,401.7 L689.4,402.7 L689.6,403.8 L689.8,404.9 L690.0,406.0 L690.2,407.0 L690.3,408.1 L690.5,409.2 L690.7,410.3 L690.9,411.3 L691.1,412.4 L691.2,413.5 L691.4,414.6 L691.6,415.6 L691.8,416.7 L692.0,417.8 L692.1,418.9 L692.3,420.0 L692.5,421.0 L692.7,422.1 L692.9,423.2 L693.0,424.3 L693.2,425.3 L693.4,426.4 L693.6,427.5 L693.8,428.6 L693.9,429.7 L694.1,430.7 L694.3,431.8 L694.5,432.9 L694.7,434.0 L694.8,435.0 L695.0,436.1 L695.2,437.2 L695.4,438.2 L695.6,439.3 L695.8,440.4 L696.0,441.4 L696.2,442.5 L696.4,443.6 L696.6,444.6 L696.8,445.7 L697.0,446.8 L697.2,447.8 L697.4,448.9 L697.6,450.0 L697.9,451.1 L698.1,452.2 L698.4,453.3 L698.6,454.4 L698.9,455.4 L699.2,456.5 L699.4,457.5 L699.7,458.5 L700.0,459.5 L700.4,460.5 L700.8,461.5 L701.5,462.7 L702.2,463.3 L703.0,462.8 L703.7,461.7 L704.2,460.6 L704.6,459.7 L704.8,458.7 L705.1,457.7 L705.4,456.7 L705.6,455.6 L705.8,454.5 L706.0,453.5 L706.2,452.4 L706.4,451.3 L706.6,450.2 L706.8,449.1 L707.0,448.0 L707.2,446.9 L707.4,445.8 L707.6,444.7 L707.9,443.6 L708.1,442.6 L708.3,441.5 L708.5,440.4 L708.8,439.4 L709.0,438.3 L709.2,437.3 L709.4,436.2 L709.6,435.1 L709.7,434.1 L709.9,433.0 L710.1,431.9 L710.2,430.8 L710.4,429.7 L710.5,428.7 L710.7,427.6 L710.8,426.5 L710.9,425.4 L711.0,424.3 L711.2,423.2 L711.3,422.2 L711.4,421.1 L711.6,420.0 L711.7,418.9 L711.8,417.8 L712.0,416.7 L712.1,415.6 L712.2,414.6 L712.4,413.5 L712.5,412.4 L712.7,411.3 L712.8,410.2 L713.0,409.1 L713.1,408.1 L713.3,407.0 L713.4,405.9 L713.6,404.8 L713.7,403.7 L713.9,402.7 L714.0,401.6 L714.1,400.5 L714.3,399.4 L714.4,398.3 L714.5,397.3 L714.7,396.2 L714.8,395.1 L714.9,394.0 L715.0,392.9 L715.2,391.8 L715.3,390.7 L715.4,389.7 L715.5,388.6 L715.6,387.5 L715.7,386.4 L715.8,385.3 L715.9,384.2 L716.1,383.1 L716.2,382.1 L716.3,381.0 L716.4,379.9 L716.5,378.8 L716.6,377.7 L716.7,376.6 L716.8,375.5 L716.9,374.5 L717.0,373.4 L717.1,372.3 L717.2,371.2 L717.3,370.1 L717.4,369.0 L717.5,367.9 L717.6,366.8 L717.7,365.8 L717.8,364.7 L717.9,363.6 L718.0,362.5 L718.1,361.4 L718.2,360.3 L718.3,359.2 L718.5,358.2 L718.6,357.1 L718.7,356.0 L718.8,354.9 L718.9,353.8 L719.0,352.7 L719.1,351.6 L719.2,350.6 L719.4,349.5 L719.5,348.4 L719.6,347.3 L719.7,346.2 L719.8,345.1 L719.9,344.1 L720.1,343.0 L720.2,341.9 L720.3,340.8 L720.4,339.7 L720.6,338.6 L720.7,337.5 L720.8,336.5 L720.9,335.4 L721.1,334.3 L721.2,333.2 L721.3,332.1 L721.5,331.0 L721.6,330.0 L721.7,328.9 L721.9,327.8 L722.0,326.7 L722.1,325.6 L722.2,324.5 L722.4,323.5 L722.5,322.4 L722.6,321.3 L722.8,320.2 L722.9,319.1 L723.0,318.0 L723.1,317.0 L723.3,315.9 L723.4,314.8 L723.5,313.7 L723.6,312.6 L723.8,311.5 L723.9,310.4 L724.0,309.4 L724.1,308.3 L724.2,307.2 L724.3,306.1 L724.4,305.0 L724.5,303.9 L724.6,302.8 L724.7,301.8 L724.8,300.7 L724.9,299.6 L725.0,298.5 L725.1,297.4 L725.2,296.3 L725.3,295.2 L725.4,294.2 L725.4,293.1 L725.5,292.0 L725.6,290.9 L725.7,289.8 L725.7,288.7 L725.8,287.6 L725.9,286.5 L725.9,285.4 L726.0,284.4 L726.1,283.3 L726.1,282.2 L726.2,281.1 L726.3,280.0 L726.3,278.9 L726.4,277.8 L726.5,276.7 L726.5,275.6 L726.6,274.5 L726.7,273.5 L726.7,272.4 L726.8,271.3 L726.9,270.2 L726.9,269.1 L727.0,268.0 L727.1,266.9 L727.1,265.8 L727.2,264.7 L727.3,263.7 L727.4,262.6 L727.4,261.5 L727.5,260.4 L727.6,259.3 L727.7,258.2 L727.8,257.1 L727.8,256.0 L727.9,254.9 L728.0,253.9 L728.1,252.8 L728.2,251.7 L728.3,250.6 L728.4,249.5 L728.5,248.4 L728.6,247.3 L728.7,246.3 L728.8,245.2 L728.9,244.1 L729.0,243.0 L729.1,241.9 L729.2,240.8 L729.3,239.7 L729.4,238.6 L729.5,237.6 L729.6,236.5 L729.8,235.4 L729.9,234.3 L730.0,233.2 L730.1,232.1 L730.2,231.0 L730.3,230.0 L730.4,228.9 L730.5,227.8 L730.6,226.7 L730.8,225.6 L730.9,224.5 L731.0,223.4 L731.1,222.4 L731.2,221.3 L731.3,220.2 L731.4,219.1 L731.5,218.0 L731.6,216.9 L731.7,215.8 L731.8,214.8 L732.0,213.7 L732.1,212.6 L732.2,211.5 L732.3,210.4 L732.4,209.3 L732.5,208.2 L732.6,207.2 L732.7,206.1 L732.8,205.0 L732.9,203.9 L733.0,202.8 L733.1,201.7 L733.2,200.6 L733.4,199.6 L733.5,198.5 L733.6,197.4 L733.7,196.3 L733.8,195.2 L733.9,194.1 L734.0,193.0 L734.1,192.0 L734.2,190.9 L734.3,189.8 L734.4,188.7 L734.5,187.6 L734.6,186.5 L734.7,185.4 L734.8,184.3 L734.9,183.3 L735.0,182.2 L735.1,181.1 L735.2,180.0 L735.3,178.9 L735.4,177.8 L735.5,176.7 L735.6,175.7 L735.7,174.6 L735.8,173.5 L735.9,172.4 L736.0,171.3 L736.1,170.2 L736.2,169.1 L736.3,168.1 L736.4,167.0 L736.5,165.9 L736.6,164.8 L736.8,163.7 L736.9,162.6 L737.0,161.5 L737.1,160.5 L737.2,159.4 L737.3,158.3 L737.4,157.2 L737.6,156.1 L737.7,155.0 L737.8,153.9 L737.9,152.9 L738.0,151.8 L738.2,150.7 L738.3,149.6 L738.4,148.5 L738.6,147.4 L738.7,146.4 L738.8,145.3 L739.0,144.2 L739.1,143.1 L739.2,142.0 L739.4,140.9 L739.5,139.9 L739.6,138.8 L739.8,137.7 L739.9,136.6 L740.1,135.5 L740.2,134.4 L740.3,133.4 L740.5,132.3 L740.6,131.2 L740.8,130.1 L740.9,129.0 L741.1,128.0 L741.2,126.9 L741.4,125.8 L741.5,124.7 L741.7,123.6 L741.8,122.6 L742.0,121.5 L742.1,120.4 L742.3,119.3 L742.4,118.2 L742.6,117.1 L742.7,116.1 L742.9,115.0 L743.0,113.9 L743.2,112.8 L743.3,111.7 L743.5,110.7 L743.6,109.6 L743.8,108.5 L743.9,107.4 L744.1,106.3 L744.2,105.3 L744.4,104.2 L744.5,103.1 L744.7,102.0 L744.8,100.9 L744.9,99.8 L745.1,98.8 L745.2,97.7 L745.4,96.6 L745.5,95.5 L745.6,94.4 L745.8,93.3 L745.9,92.3 L746.1,91.2 L746.2,90.1 L746.3,89.0 L746.5,87.9 L746.6,86.9 L746.8,85.8 L747.0,84.7 L747.1,83.6 L747.3,82.5 L747.5,81.5 L747.6,80.4 L747.8,79.3 L748.0,78.2 L748.2,77.2 L748.4,76.1 L748.6,75.0 L748.9,74.0 L749.1,72.9 L749.3,71.8 L749.6,70.8 L749.8,69.7 L750.1,68.6 L750.3,67.6 L750.6,66.5 L750.9,65.5 L751.2,64.4 L751.5,63.4 L751.8,62.3 L752.1,61.3 L752.4,60.2 L752.7,59.2 L753.0,58.1 L753.4,57.1 L753.8,56.1 L754.3,55.1 L754.9,54.2 L755.6,53.3 L756.5,52.5 L757.4,51.9 L758.4,51.6 L759.3,51.8 L760.2,52.5 L760.9,53.5 L761.7,54.5 L762.3,55.6 L762.9,56.6 L763.4,57.6 L763.8,58.6 L764.3,59.5 L764.7,60.5 L765.1,61.5 L765.5,62.4 L765.8,63.4 L766.2,64.4 L766.6,65.4 L766.9,66.4 L767.3,67.4 L767.6,68.5 L768.0,69.5 L768.3,70.6 L768.7,71.6 L769.0,72.7 L769.3,73.8 L769.6,74.8 L769.9,75.9 L770.2,76.9 L770.5,78.0 L770.8,79.1 L771.1,80.1 L771.3,81.2 L771.6,82.2 L771.8,83.3 L772.1,84.4 L772.3,85.4 L772.5,86.5 L772.8,87.6 L773.0,88.6 L773.2,89.7 L773.4,90.8 L773.6,91.8 L773.8,92.9 L774.1,94.0 L774.3,95.0 L774.5,96.1 L774.7,97.2 L774.9,98.2 L775.1,99.3 L775.3,100.4 L775.5,101.4 L775.7,102.5 L775.9,103.6 L776.1,104.7 L776.3,105.7 L776.5,106.8 L776.7,107.9 L776.9,108.9 L777.1,110.0 L777.2,111.1 L777.4,112.2 L777.6,113.2 L777.8,114.3 L778.0,115.4 L778.2,116.5 L778.4,117.5 L778.6,118.6 L778.8,119.7 L779.0,120.8 L779.1,121.9 L779.3,122.9 L779.5,124.0 L779.7,125.1 L779.9,126.2 L780.1,127.2 L780.2,128.3 L780.4,129.4 L780.6,130.5 L780.8,131.5 L781.0,132.6 L781.1,133.7 L781.3,134.8 L781.5,135.9 L781.7,136.9 L781.8,138.0 L782.0,139.1 L782.2,140.2 L782.4,141.2 L782.5,142.3 L782.7,143.4 L782.9,144.5 L783.1,145.5 L783.2,146.6 L783.4,147.7 L783.6,148.8 L783.7,149.9 L783.9,150.9 L784.1,152.0 L784.3,153.1 L784.4,154.2 L784.6,155.2 L784.8,156.3 L784.9,157.4 L785.1,158.5 L785.3,159.6 L785.5,160.6 L785.6,161.7 L785.8,162.8 L786.0,163.9 L786.1,164.9 L786.3,166.0 L786.4,167.1 L786.6,168.2 L786.8,169.3 L786.9,170.3 L787.1,171.4 L787.2,172.5 L787.4,173.6 L787.6,174.7 L787.7,175.7 L787.9,176.8 L788.0,177.9 L788.2,179.0 L788.3,180.1 L788.4,181.2 L788.6,182.2 L788.7,183.3 L788.9,184.4 L789.0,185.5 L789.1,186.6 L789.3,187.6 L789.4,188.7 L789.5,189.8 L789.7,190.9 L789.8,192.0 L789.9,193.1 L790.1,194.1 L790.2,195.2 L790.3,196.3 L790.4,197.4 L790.6,198.5 L790.7,199.6 L790.8,200.7 L790.9,201.7 L791.0,202.8 L791.1,203.9 L791.3,205.0 L791.4,206.1 L791.5,207.2 L791.6,208.2 L791.7,209.3 L791.8,210.4 L792.0,211.5 L792.1,212.6 L792.2,213.7 L792.3,214.8 L792.4,215.8 L792.5,216.9 L792.6,218.0 L792.7,219.1 L792.8,220.2 L793.0,221.3 L793.1,222.4 L793.2,223.4 L793.3,224.5 L793.4,225.6 L793.5,226.7 L793.6,227.8 L793.7,228.9 L793.8,230.0 L794.0,231.0 L794.1,232.1 L794.2,233.2 L794.3,234.3" stroke="#ff0000" stroke-width="2.75"/>
<path d="M577.7,298 V276.8" stroke="#ff0000" stroke-width="3.1"/>
<path d="M628.6,198.8 L651.6,257.5" stroke="#000" stroke-width="1.4"/>
<path d="M611.8,312.3 L591.2,402.4" stroke="#000" stroke-width="1.4"/>
</g>
<path d="M133.9,46 V186" stroke="#000" stroke-width="1.9" fill="none"/>
<path d="M128.5,183.5 H139.3 L133.9,203 Z" fill="#000"/>
<rect x="336.6" y="25.8" width="35" height="35.4" fill="#fff" stroke="#000" stroke-width="1.25"/>
<rect x="772.9" y="25.8" width="35.4" height="34.9" fill="#fff" stroke="#000" stroke-width="1.25"/>
<g font-family="'Liberation Sans', sans-serif" fill="#000">
<text transform="translate(74.80,507.00) scale(0.94,1)" font-size="26.8px" text-anchor="end">0</text>
<text transform="translate(74.80,421.50) scale(0.94,1)" font-size="26.8px" text-anchor="end">5</text>
<g transform="translate(74.80,336.00) scale(0.94,1)"><path transform="translate(-29.80,0.00) scale(26.8)" d="M0.3726,0H0.2847V-0.5601Q0.2529,-0.5298 0.2014,-0.4995Q0.1499,-0.4692 0.1089,-0.4541V-0.5391Q0.1826,-0.5737 0.2378,-0.623Q0.293,-0.6724 0.3159,-0.7188H0.3726Z"/><text x="-14.90" y="0.00" font-size="26.8px">0</text></g>
<g transform="translate(74.80,250.50) scale(0.94,1)"><path transform="translate(-29.80,0.00) scale(26.8)" d="M0.3726,0H0.2847V-0.5601Q0.2529,-0.5298 0.2014,-0.4995Q0.1499,-0.4692 0.1089,-0.4541V-0.5391Q0.1826,-0.5737 0.2378,-0.623Q0.293,-0.6724 0.3159,-0.7188H0.3726Z"/><text x="-14.90" y="0.00" font-size="26.8px">5</text></g>
<text transform="translate(74.80,165.00) scale(0.94,1)" font-size="26.8px" text-anchor="end">20</text>
<text transform="translate(74.80,79.50) scale(0.94,1)" font-size="26.8px" text-anchor="end">25</text>
<text transform="translate(483.00,506.50) scale(0.94,1)" font-size="26.8px" text-anchor="end">-0.2</text>
<text transform="translate(483.00,433.05) scale(0.94,1)" font-size="26.8px" text-anchor="end">0.0</text>
<text transform="translate(483.00,359.60) scale(0.94,1)" font-size="26.8px" text-anchor="end">0.2</text>
<text transform="translate(483.00,286.15) scale(0.94,1)" font-size="26.8px" text-anchor="end">0.4</text>
<text transform="translate(483.00,212.70) scale(0.94,1)" font-size="26.8px" text-anchor="end">0.6</text>
<text transform="translate(483.00,139.25) scale(0.94,1)" font-size="26.8px" text-anchor="end">0.8</text>
<g transform="translate(483.00,65.80) scale(0.94,1)"><path transform="translate(-37.25,0.00) scale(26.8)" d="M0.3726,0H0.2847V-0.5601Q0.2529,-0.5298 0.2014,-0.4995Q0.1499,-0.4692 0.1089,-0.4541V-0.5391Q0.1826,-0.5737 0.2378,-0.623Q0.293,-0.6724 0.3159,-0.7188H0.3726Z"/><text x="-22.35" y="0.00" font-size="26.8px">.0</text></g>
<text transform="translate(86.00,529.80) scale(0.94,1)" font-size="26.8px" text-anchor="middle">0</text>
<text transform="translate(494.40,529.80) scale(0.94,1)" font-size="26.8px" text-anchor="middle">0</text>
<text transform="translate(195.20,529.80) scale(0.94,1)" font-size="26.8px" text-anchor="middle">2</text>
<text transform="translate(603.56,529.80) scale(0.94,1)" font-size="26.8px" text-anchor="middle">2</text>
<text transform="translate(303.90,529.80) scale(0.94,1)" font-size="26.8px" text-anchor="middle">4</text>
<text transform="translate(712.72,529.80) scale(0.94,1)" font-size="26.8px" text-anchor="middle">4</text>
<text transform="translate(413.60,529.80) scale(0.94,1)" font-size="26.8px" text-anchor="middle">6</text>
<text transform="translate(821.88,529.80) scale(0.94,1)" font-size="26.8px" text-anchor="middle">6</text>
<text x="252.9" y="574.8" font-size="28.2px" text-anchor="middle">B (T)</text>
<text x="661" y="574.8" font-size="28.2px" text-anchor="middle">B (T)</text>
<g transform="translate(22.6,313.3) rotate(-90) scale(1,1.04)" font-size="28px"><text x="0" y="0"><tspan font-size="22.8px">&#963;</tspan><tspan font-size="16.5px" dx="1.2" dy="10">xx</tspan><tspan dy="-10"> (G</tspan><tspan font-size="16.5px" dy="10">0</tspan><tspan dy="-10">)</tspan></text></g>
<g transform="translate(417.4,286.2) rotate(-90) scale(1,1.035)" font-size="28px"><text x="0" y="0">K<tspan font-size="16.5px" dy="11">ee</tspan></text></g>
<text x="150.7" y="54.3" font-size="26.2px">T = 4.2 K</text>
<text x="194.2" y="86.2" font-size="26px">3.0</text>
<text x="194.2" y="117.8" font-size="26px">2.5</text>
<text x="194.2" y="149.7" font-size="26px">2.0</text>
<g transform="translate(194.20,181.30) scale(1,1)"><path transform="translate(0.00,0.00) scale(26)" d="M0.3726,0H0.2847V-0.5601Q0.2529,-0.5298 0.2014,-0.4995Q0.1499,-0.4692 0.1089,-0.4541V-0.5391Q0.1826,-0.5737 0.2378,-0.623Q0.293,-0.6724 0.3159,-0.7188H0.3726Z"/><text x="14.46" y="0.00" font-size="26px">.35</text></g>
<text transform="translate(354.3,54.6) scale(0.93,1)" font-size="31px" text-anchor="middle">a</text>
<text transform="translate(791.4,54.1) scale(0.95,1)" font-size="30.3px" text-anchor="middle">b</text>
<g transform="translate(570.2,190.4) scale(1,1.05)"><text x="0" y="0" font-size="30.1px">T</text><path transform="translate(18.39,10.6) scale(18.3)" d="M0.3726,0H0.2847V-0.5601Q0.2529,-0.5298 0.2014,-0.4995Q0.1499,-0.4692 0.1089,-0.4541V-0.5391Q0.1826,-0.5737 0.2378,-0.623Q0.293,-0.6724 0.3159,-0.7188H0.3726Z"/><text x="28.57" y="0.00" font-size="30.1px">=</text><path transform="translate(46.14,0.00) scale(30.1)" d="M0.3726,0H0.2847V-0.5601Q0.2529,-0.5298 0.2014,-0.4995Q0.1499,-0.4692 0.1089,-0.4541V-0.5391Q0.1826,-0.5737 0.2378,-0.623Q0.293,-0.6724 0.3159,-0.7188H0.3726Z"/><text x="62.88" y="0.00" font-size="30.1px">.35 K</text></g>
<g transform="translate(545.5,434.5) scale(1,1.05)"><text x="0" y="0" font-size="30.1px">T</text><path transform="translate(18.39,10.6) scale(18.3)" d="M0.3726,0H0.2847V-0.5601Q0.2529,-0.5298 0.2014,-0.4995Q0.1499,-0.4692 0.1089,-0.4541V-0.5391Q0.1826,-0.5737 0.2378,-0.623Q0.293,-0.6724 0.3159,-0.7188H0.3726Z"/><text x="28.57" y="0.00" font-size="30.1px">=2.5 K</text></g>
</g>
</svg>
</body></html>
